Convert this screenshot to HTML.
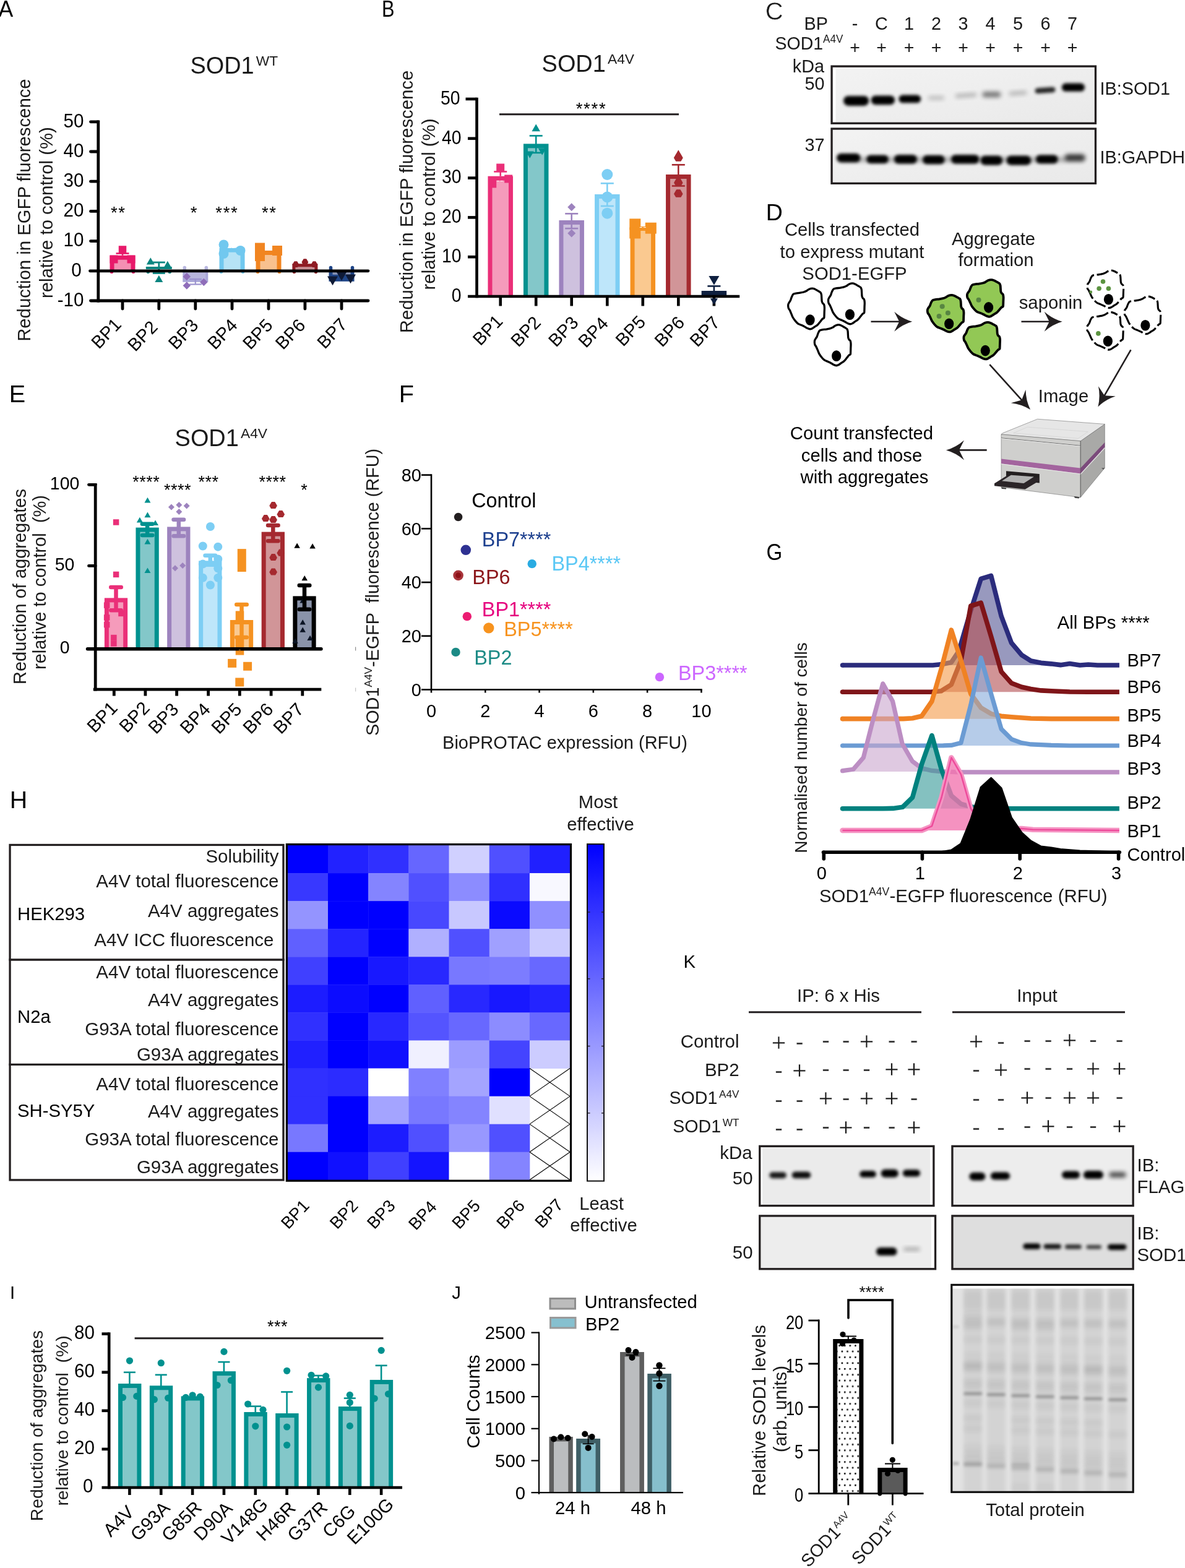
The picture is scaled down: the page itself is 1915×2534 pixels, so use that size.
<!DOCTYPE html>
<html lang="en">
<head>
<meta charset="utf-8">
<title>Figure</title>
<style>
html,body{margin:0;padding:0;background:#fff;}
body{width:1915px;height:2534px;overflow:hidden;}
svg{display:block;}
svg text{font-family:"Liberation Sans",Arial,Helvetica,sans-serif;white-space:pre;}
</style>
</head>
<body>
<svg width="1915" height="2534" viewBox="0 0 1915 2534">
<defs>
<filter id="b1" x="-30%" y="-80%" width="160%" height="260%"><feGaussianBlur stdDeviation="1.6"/></filter>
<filter id="b2" x="-30%" y="-80%" width="160%" height="260%"><feGaussianBlur stdDeviation="2.4"/></filter>
<filter id="b3" x="-30%" y="-80%" width="160%" height="260%"><feGaussianBlur stdDeviation="3.5"/></filter>
<linearGradient id="gbg1" x1="0" y1="0" x2="1" y2="1"><stop offset="0" stop-color="#F3F3F3"/><stop offset="1" stop-color="#E9E9E9"/></linearGradient>
<pattern id="plate" width="1.6" height="1.6" patternUnits="userSpaceOnUse" patternTransform="rotate(20)"><rect width="1.6" height="1.6" fill="none"/><circle cx="0.8" cy="0.8" r="0.45" fill="#8a8a8a"/></pattern>
<linearGradient id="cbar" x1="0" y1="0" x2="0" y2="1"><stop offset="0" stop-color="#0000FF"/><stop offset="1" stop-color="#FFFFFF"/></linearGradient>
<pattern id="dots" x="1355.3" y="2173.3" width="8.6" height="18.8" patternUnits="userSpaceOnUse"><rect width="8.6" height="18.8" fill="#fff"/><rect x="0" y="0" width="2.6" height="2.6" rx="0.6" fill="#111"/><rect x="4.3" y="9.4" width="2.6" height="2.6" rx="0.6" fill="#111"/></pattern>
<filter id="b5" x="-20%" y="-200%" width="140%" height="500%"><feGaussianBlur stdDeviation="2 2.2"/></filter>
<filter id="b6" x="-20%" y="-200%" width="140%" height="500%"><feGaussianBlur stdDeviation="2.5 3"/></filter>
<filter id="b8" x="-30%" y="-300%" width="160%" height="700%"><feGaussianBlur stdDeviation="3 5"/></filter>
<filter id="b7" x="-5%" y="-5%" width="110%" height="110%"><feGaussianBlur stdDeviation="3 1"/></filter>
</defs>
<!-- Panel A -->
<text x="378.3" y="118.9" font-size="37.9" text-anchor="middle" fill="#1a1a1a">SOD1<tspan font-size="60%" dy="-0.57em" dx="0.14em">WT</tspan></text>
<text transform="translate(48.8 339.6) rotate(-90)" font-size="29.3" text-anchor="middle" fill="#1a1a1a">Reduction in EGFP fluorescence</text>
<text transform="translate(85.4 343.7) rotate(-90)" font-size="29.3" text-anchor="middle" fill="#1a1a1a">relative to control (%)</text>
<rect x="177.5" y="412.74" width="41" height="25.06" fill="#E8196A"/>
<rect x="184.5" y="419.74" width="27" height="18.06" fill="#F48FB3"/>
<rect x="191.75" y="397.25" width="12.5" height="12.5" fill="#E8196A"/>
<line x1="198" y1="409.54" x2="198" y2="412.74" stroke="#E8196A" stroke-width="2.6"/>
<line x1="187.5" y1="409.54" x2="208.5" y2="409.54" stroke="#E8196A" stroke-width="2.6"/>
<rect x="177.5" y="412.5" width="13" height="13" fill="#E8196A"/>
<rect x="205.5" y="412.5" width="13" height="13" fill="#E8196A"/>
<line x1="235.8" y1="433" x2="277.8" y2="433" stroke="#0A8580" stroke-width="4"/>
<line x1="256.8" y1="424" x2="256.8" y2="441.5" stroke="#0A8580" stroke-width="2.8"/>
<line x1="246.8" y1="424" x2="266.8" y2="424" stroke="#0A8580" stroke-width="2.8"/>
<line x1="246.8" y1="441.5" x2="266.8" y2="441.5" stroke="#0A8580" stroke-width="2.8"/>
<path d="M243.3 416.25 L249.8 427.5 L236.8 427.5Z" fill="#0A8580"/>
<path d="M270.8 421.75 L277.3 433 L264.3 433Z" fill="#0A8580"/>
<path d="M256.8 444.75 L263.3 456 L250.3 456Z" fill="#0A8580"/>
<line x1="298.3" y1="432.5" x2="298.3" y2="437.8" stroke="#B9B8E0" stroke-width="5.5" stroke-linecap="round"/>
<line x1="333.3" y1="432.5" x2="333.3" y2="437.8" stroke="#B9B8E0" stroke-width="5.5" stroke-linecap="round"/>
<circle cx="180.5" cy="439.4" r="2.7" fill="#E8196A"/>
<circle cx="215.5" cy="439.4" r="2.7" fill="#E8196A"/>
<circle cx="357.5" cy="439.4" r="2.7" fill="#71C8EF"/>
<circle cx="392.5" cy="439.4" r="2.7" fill="#71C8EF"/>
<circle cx="416.5" cy="439.4" r="2.7" fill="#F18521"/>
<circle cx="451.5" cy="439.4" r="2.7" fill="#F18521"/>
<circle cx="475.4" cy="439.4" r="2.7" fill="#8F1C24"/>
<circle cx="510.4" cy="439.4" r="2.7" fill="#8F1C24"/>
<circle cx="239.3" cy="439.4" r="2.7" fill="#0A8580"/>
<circle cx="274.3" cy="439.4" r="2.7" fill="#0A8580"/>
<rect x="295.3" y="437.8" width="41" height="18" fill="#A9A6D8"/>
<rect x="299.3" y="437.8" width="33" height="14" fill="#B7B5DC"/>
<line x1="305.8" y1="451" x2="325.8" y2="451" stroke="#9C93CF" stroke-width="2.2"/>
<line x1="315.8" y1="451" x2="315.8" y2="459.5" stroke="#9C93CF" stroke-width="2.2"/>
<line x1="305.8" y1="459.5" x2="325.8" y2="459.5" stroke="#9C93CF" stroke-width="2.2"/>
<path d="M301.8 440.75 L308.05 447 L301.8 453.25 L295.55 447Z" fill="#8F6DB9"/>
<path d="M329.3 449.75 L335.55 456 L329.3 462.25 L323.05 456Z" fill="#8F6DB9"/>
<path d="M301.8 455.25 L308.05 461.5 L301.8 467.75 L295.55 461.5Z" fill="#8F6DB9"/>
<rect x="354.5" y="400.69" width="41" height="37.11" fill="#71C8EF"/>
<rect x="361.5" y="407.69" width="27" height="30.11" fill="#B6E3F6"/>
<circle cx="361.5" cy="395.5" r="8" fill="#71C8EF"/>
<circle cx="388.5" cy="405" r="8" fill="#71C8EF"/>
<circle cx="361.5" cy="410" r="8" fill="#71C8EF"/>
<line x1="369" y1="400.5" x2="381" y2="400.5" stroke="#fff" stroke-width="1" stroke-dasharray="4 2"/>
<rect x="413.5" y="405.02" width="41" height="32.78" fill="#F18521"/>
<rect x="420.5" y="412.02" width="27" height="25.78" fill="#F8C18F"/>
<rect x="412" y="392.5" width="16" height="16" fill="#F18521"/>
<rect x="440" y="397" width="16" height="16" fill="#F18521"/>
<rect x="412" y="406" width="16" height="16" fill="#F18521"/>
<line x1="428" y1="404.5" x2="440" y2="404.5" stroke="#fff" stroke-width="1" stroke-dasharray="4 2"/>
<rect x="472.4" y="426.23" width="41" height="11.57" fill="#8F1C24"/>
<rect x="477.4" y="431.23" width="31" height="6.57" fill="#C98F94"/>
<path d="M475.84 422.96 L479.96 422.96 L482.7 427.72 L480.64 431.28 L475.16 431.28 L473.1 427.72Z" fill="#8F1C24" stroke="#8F1C24" stroke-width="1.2" stroke-linejoin="round"/>
<path d="M490.84 418.96 L494.96 418.96 L497.7 423.72 L495.64 427.28 L490.16 427.28 L488.1 423.72Z" fill="#8F1C24" stroke="#8F1C24" stroke-width="1.2" stroke-linejoin="round"/>
<path d="M505.84 422.96 L509.96 422.96 L512.7 427.72 L510.64 431.28 L505.16 431.28 L503.1 427.72Z" fill="#8F1C24" stroke="#8F1C24" stroke-width="1.2" stroke-linejoin="round"/>
<rect x="531.5" y="437.8" width="41" height="17" fill="#1F4587"/>
<rect x="537.5" y="437.8" width="29" height="6" fill="#8A95B5"/>
<line x1="534.5" y1="432.5" x2="534.5" y2="437.8" stroke="#1F4587" stroke-width="5.5" stroke-linecap="round"/>
<line x1="569.5" y1="432.5" x2="569.5" y2="437.8" stroke="#1F4587" stroke-width="5.5" stroke-linecap="round"/>
<path d="M537.5 461.33 L546 446.61 L529 446.61Z" fill="#0E1A36"/>
<path d="M552 453.83 L560.5 439.11 L543.5 439.11Z" fill="#0E1A36"/>
<path d="M566.5 458.33 L575 443.61 L558 443.61Z" fill="#0E1A36"/>
<line x1="158.8" y1="194.4" x2="158.8" y2="488.4" stroke="#000" stroke-width="4.8"/>
<line x1="158.8" y1="486" x2="595" y2="486" stroke="#000" stroke-width="4.8" stroke-linecap="round"/>
<line x1="145.5" y1="437.8" x2="595" y2="437.8" stroke="#000" stroke-width="4.8" stroke-linecap="round"/>
<line x1="146.5" y1="196.8" x2="158.8" y2="196.8" stroke="#000" stroke-width="4.8" stroke-linecap="round"/>
<line x1="146.5" y1="245" x2="158.8" y2="245" stroke="#000" stroke-width="4.8" stroke-linecap="round"/>
<line x1="146.5" y1="293.2" x2="158.8" y2="293.2" stroke="#000" stroke-width="4.8" stroke-linecap="round"/>
<line x1="146.5" y1="341.4" x2="158.8" y2="341.4" stroke="#000" stroke-width="4.8" stroke-linecap="round"/>
<line x1="146.5" y1="389.6" x2="158.8" y2="389.6" stroke="#000" stroke-width="4.8" stroke-linecap="round"/>
<line x1="146.5" y1="486" x2="158.8" y2="486" stroke="#000" stroke-width="4.8" stroke-linecap="round"/>
<line x1="198" y1="486" x2="198" y2="499" stroke="#000" stroke-width="4.8" stroke-linecap="round"/>
<line x1="256.8" y1="486" x2="256.8" y2="499" stroke="#000" stroke-width="4.8" stroke-linecap="round"/>
<line x1="315.8" y1="486" x2="315.8" y2="499" stroke="#000" stroke-width="4.8" stroke-linecap="round"/>
<line x1="375" y1="486" x2="375" y2="499" stroke="#000" stroke-width="4.8" stroke-linecap="round"/>
<line x1="434" y1="486" x2="434" y2="499" stroke="#000" stroke-width="4.8" stroke-linecap="round"/>
<line x1="492.9" y1="486" x2="492.9" y2="499" stroke="#000" stroke-width="4.8" stroke-linecap="round"/>
<line x1="552" y1="486" x2="552" y2="499" stroke="#000" stroke-width="4.8" stroke-linecap="round"/>
<text transform="translate(135.5 205.5) scale(0.94 1)" font-size="31.5" text-anchor="end">50</text>
<text transform="translate(135.5 253.7) scale(0.94 1)" font-size="31.5" text-anchor="end">40</text>
<text transform="translate(135.5 301.9) scale(0.94 1)" font-size="31.5" text-anchor="end">30</text>
<text transform="translate(135.5 350.1) scale(0.94 1)" font-size="31.5" text-anchor="end">20</text>
<text transform="translate(135.5 398.3) scale(0.94 1)" font-size="31.5" text-anchor="end">10</text>
<text transform="translate(123.6 446.5) scale(0.94 1)" font-size="31.5" text-anchor="middle">0</text>
<text transform="translate(135.5 494.7) scale(0.94 1)" font-size="31.5" text-anchor="end">-10</text>
<text transform="translate(178.74 545.49) rotate(-46)" font-size="28.9" text-anchor="middle">BP1</text>
<text transform="translate(237.34 549.89) rotate(-46)" font-size="28.9" text-anchor="middle">BP2</text>
<text transform="translate(303.24 546.89) rotate(-46)" font-size="28.9" text-anchor="middle">BP3</text>
<text transform="translate(366.34 546.89) rotate(-46)" font-size="28.9" text-anchor="middle">BP4</text>
<text transform="translate(423.44 546.89) rotate(-46)" font-size="28.9" text-anchor="middle">BP5</text>
<text transform="translate(476.24 546.89) rotate(-46)" font-size="28.9" text-anchor="middle">BP6</text>
<text transform="translate(543.64 545.49) rotate(-46)" font-size="28.9" text-anchor="middle">BP7</text>
<text x="191.3" y="353" font-size="27.5" text-anchor="middle" letter-spacing="1.6">**</text>
<text x="313.8" y="353" font-size="27.5" text-anchor="middle" letter-spacing="1.6">*</text>
<text x="366.8" y="353" font-size="27.5" text-anchor="middle" letter-spacing="1.6">***</text>
<text x="435.3" y="353" font-size="27.5" text-anchor="middle" letter-spacing="1.6">**</text>
<!-- Panel B -->
<text x="950.3" y="115.5" font-size="37.9" text-anchor="middle" fill="#1a1a1a">SOD1<tspan font-size="60%" dy="-0.57em" dx="0.14em">A4V</tspan></text>
<text transform="translate(667 326) rotate(-90)" font-size="29.3" text-anchor="middle" fill="#1a1a1a">Reduction in EGFP fluorescence</text>
<text transform="translate(703 330) rotate(-90)" font-size="29.3" text-anchor="middle" fill="#1a1a1a">relative to control (%)</text>
<rect x="788.45" y="284.7" width="40.5" height="194.3" fill="#EA2F78"/>
<rect x="795.45" y="291.7" width="26.5" height="187.3" fill="#F59BBB"/>
<rect x="845.95" y="232.4" width="40.5" height="246.6" fill="#00918F"/>
<rect x="852.95" y="239.4" width="26.5" height="239.6" fill="#83C7C9"/>
<rect x="903.45" y="356" width="40.5" height="123" fill="#9D83BE"/>
<rect x="910.45" y="363" width="26.5" height="116" fill="#CEC1DE"/>
<rect x="961.05" y="314" width="40.5" height="165" fill="#7DCEF4"/>
<rect x="968.05" y="321" width="26.5" height="158" fill="#BEE6FA"/>
<rect x="1018.55" y="366" width="40.5" height="113" fill="#F59221"/>
<rect x="1025.55" y="373" width="26.5" height="106" fill="#FAC990"/>
<rect x="1076.05" y="282" width="40.5" height="197" fill="#A5292F"/>
<rect x="1083.05" y="289" width="26.5" height="190" fill="#D19598"/>
<rect x="1133.65" y="470" width="40.5" height="9" fill="#0F2040"/>
<rect x="1140.65" y="477" width="26.5" height="2" fill="#0F2040"/>
<rect x="802.2" y="264.5" width="13" height="13" fill="#EA2F78"/>
<line x1="808.7" y1="277.4" x2="808.7" y2="284.7" stroke="#EA2F78" stroke-width="2.6"/>
<line x1="798.2" y1="277.4" x2="819.2" y2="277.4" stroke="#EA2F78" stroke-width="2.6"/>
<rect x="789.2" y="290.5" width="13" height="13" fill="#EA2F78"/>
<rect x="815.2" y="282.5" width="13" height="13" fill="#EA2F78"/>
<line x1="802.7" y1="292.5" x2="814.7" y2="292.5" stroke="#fff" stroke-width="1" stroke-dasharray="4 2"/>
<path d="M866.2 200.49 L872.95 212.18 L859.45 212.18Z" fill="#00918F"/>
<line x1="866.2" y1="219.4" x2="866.2" y2="246.9" stroke="#00918F" stroke-width="2.6"/>
<line x1="855.7" y1="219.4" x2="876.7" y2="219.4" stroke="#00918F" stroke-width="2.6"/>
<line x1="855.7" y1="246.9" x2="876.7" y2="246.9" stroke="#00918F" stroke-width="2.6"/>
<path d="M856.2 255.75 L862.7 244.5 L849.7 244.5Z" fill="#00918F"/>
<path d="M876.2 250.75 L882.7 239.5 L869.7 239.5Z" fill="#00918F"/>
<path d="M923.7 328.2 L930.2 334.7 L923.7 341.2 L917.2 334.7Z" fill="#9D83BE"/>
<line x1="923.7" y1="345.3" x2="923.7" y2="369.2" stroke="#9D83BE" stroke-width="2.6"/>
<line x1="913.2" y1="345.3" x2="934.2" y2="345.3" stroke="#9D83BE" stroke-width="2.6"/>
<line x1="913.2" y1="369.2" x2="934.2" y2="369.2" stroke="#9D83BE" stroke-width="2.6"/>
<path d="M923.7 370.5 L930.2 377 L923.7 383.5 L917.2 377Z" fill="#9D83BE"/>
<circle cx="981.3" cy="282" r="9" fill="#7DCEF4"/>
<line x1="981.3" y1="296.3" x2="981.3" y2="333" stroke="#7DCEF4" stroke-width="2.6"/>
<line x1="970.8" y1="296.3" x2="991.8" y2="296.3" stroke="#7DCEF4" stroke-width="2.6"/>
<line x1="970.8" y1="333" x2="991.8" y2="333" stroke="#7DCEF4" stroke-width="2.6"/>
<circle cx="981.3" cy="318.5" r="9" fill="#7DCEF4"/>
<circle cx="981.3" cy="344.7" r="9" fill="#7DCEF4"/>
<rect x="1017.3" y="353.4" width="18" height="18" fill="#F59221"/>
<rect x="1042.8" y="359.7" width="18" height="18" fill="#F59221"/>
<rect x="1017.3" y="367.5" width="18" height="18" fill="#F59221"/>
<line x1="1033.8" y1="367.5" x2="1043.8" y2="367.5" stroke="#fff" stroke-width="1" stroke-dasharray="4 2"/>
<path d="M1093.49 248.86 L1099.11 248.86 L1102.85 255.34 L1100.04 260.2 L1092.56 260.2 L1089.75 255.34Z" fill="#A5292F" stroke="#A5292F" stroke-width="1.2" stroke-linejoin="round"/>
<path d="M1096.3 242.21 L1103.8 255.2 L1088.8 255.2Z" fill="#A5292F"/>
<line x1="1096.3" y1="266.3" x2="1096.3" y2="300.5" stroke="#A5292F" stroke-width="2.6"/>
<line x1="1085.8" y1="266.3" x2="1106.8" y2="266.3" stroke="#A5292F" stroke-width="2.6"/>
<line x1="1085.8" y1="300.5" x2="1106.8" y2="300.5" stroke="#A5292F" stroke-width="2.6"/>
<path d="M1093.49 288.86 L1099.11 288.86 L1102.85 295.34 L1100.04 300.2 L1092.56 300.2 L1089.75 295.34Z" fill="#A5292F" stroke="#A5292F" stroke-width="1.2" stroke-linejoin="round"/>
<path d="M1093.49 306.86 L1099.11 306.86 L1102.85 313.34 L1100.04 318.2 L1092.56 318.2 L1089.75 313.34Z" fill="#A5292F" stroke="#A5292F" stroke-width="1.2" stroke-linejoin="round"/>
<path d="M1153.9 460.83 L1162.4 446.11 L1145.4 446.11Z" fill="#0F2040"/>
<line x1="1153.9" y1="462.4" x2="1153.9" y2="470" stroke="#0F2040" stroke-width="2.6"/>
<line x1="1143.4" y1="462.4" x2="1164.4" y2="462.4" stroke="#0F2040" stroke-width="2.6"/>
<line x1="770.5" y1="157.7" x2="770.5" y2="481.3" stroke="#000" stroke-width="4.6"/>
<line x1="756" y1="479" x2="1195.2" y2="479" stroke="#000" stroke-width="4.6"/>
<line x1="752.5" y1="160" x2="770.5" y2="160" stroke="#000" stroke-width="4.6"/>
<line x1="756" y1="223.8" x2="770.5" y2="223.8" stroke="#000" stroke-width="4.6"/>
<line x1="756" y1="287.6" x2="770.5" y2="287.6" stroke="#000" stroke-width="4.6"/>
<line x1="756" y1="351.4" x2="770.5" y2="351.4" stroke="#000" stroke-width="4.6"/>
<line x1="756" y1="415.2" x2="770.5" y2="415.2" stroke="#000" stroke-width="4.6"/>
<line x1="808.7" y1="479" x2="808.7" y2="494.5" stroke="#000" stroke-width="4.6"/>
<line x1="866.2" y1="479" x2="866.2" y2="494.5" stroke="#000" stroke-width="4.6"/>
<line x1="923.7" y1="479" x2="923.7" y2="494.5" stroke="#000" stroke-width="4.6"/>
<line x1="981.3" y1="479" x2="981.3" y2="494.5" stroke="#000" stroke-width="4.6"/>
<line x1="1038.8" y1="479" x2="1038.8" y2="494.5" stroke="#000" stroke-width="4.6"/>
<line x1="1096.3" y1="479" x2="1096.3" y2="494.5" stroke="#000" stroke-width="4.6"/>
<line x1="1153.9" y1="479" x2="1153.9" y2="494.5" stroke="#000" stroke-width="4.6"/>
<path d="M1153.9 492.74 L1159.9 482.34 L1147.9 482.34Z" fill="#0F2040"/>
<text transform="translate(743.6 168.7) scale(0.9 1)" font-size="31.5" text-anchor="end">50</text>
<text transform="translate(745.6 232.5) scale(0.9 1)" font-size="31.5" text-anchor="end">40</text>
<text transform="translate(745.6 296.3) scale(0.9 1)" font-size="31.5" text-anchor="end">30</text>
<text transform="translate(745.6 360.1) scale(0.9 1)" font-size="31.5" text-anchor="end">20</text>
<text transform="translate(745.6 423.9) scale(0.9 1)" font-size="31.5" text-anchor="end">10</text>
<text transform="translate(745.6 487.7) scale(0.9 1)" font-size="31.5" text-anchor="end">0</text>
<text transform="translate(795.24 540.39) rotate(-46)" font-size="28.9" text-anchor="middle">BP1</text>
<text transform="translate(856.74 542.49) rotate(-46)" font-size="28.9" text-anchor="middle">BP2</text>
<text transform="translate(917.44 542.49) rotate(-46)" font-size="28.9" text-anchor="middle">BP3</text>
<text transform="translate(965.74 543.89) rotate(-46)" font-size="28.9" text-anchor="middle">BP4</text>
<text transform="translate(1025.84 541.59) rotate(-46)" font-size="28.9" text-anchor="middle">BP5</text>
<text transform="translate(1088.84 542.49) rotate(-46)" font-size="28.9" text-anchor="middle">BP6</text>
<text transform="translate(1146.04 542.49) rotate(-46)" font-size="28.9" text-anchor="middle">BP7</text>
<line x1="807" y1="184.8" x2="1097" y2="184.8" stroke="#231F20" stroke-width="3.1"/>
<text x="955.5" y="184.6" font-size="27.5" text-anchor="middle" letter-spacing="1.7">****</text>
<!-- Panel C -->
<text transform="translate(1299.5 47.6) scale(0.95 1)" font-size="30.3" fill="#1a1a1a">BP</text>
<text transform="translate(1381.5 47.6) scale(0.95 1)" font-size="30.3" text-anchor="middle" fill="#1a1a1a">-</text>
<text transform="translate(1424.5 47.6) scale(0.95 1)" font-size="30.3" text-anchor="middle" fill="#1a1a1a">C</text>
<text transform="translate(1469 47.6) scale(0.95 1)" font-size="30.3" text-anchor="middle" fill="#1a1a1a">1</text>
<text transform="translate(1513 47.6) scale(0.95 1)" font-size="30.3" text-anchor="middle" fill="#1a1a1a">2</text>
<text transform="translate(1556.5 47.6) scale(0.95 1)" font-size="30.3" text-anchor="middle" fill="#1a1a1a">3</text>
<text transform="translate(1600.5 47.6) scale(0.95 1)" font-size="30.3" text-anchor="middle" fill="#1a1a1a">4</text>
<text transform="translate(1645 47.6) scale(0.95 1)" font-size="30.3" text-anchor="middle" fill="#1a1a1a">5</text>
<text transform="translate(1689.5 47.6) scale(0.95 1)" font-size="30.3" text-anchor="middle" fill="#1a1a1a">6</text>
<text transform="translate(1733 47.6) scale(0.95 1)" font-size="30.3" text-anchor="middle" fill="#1a1a1a">7</text>
<text transform="translate(1252.5 80) scale(0.94 1)" font-size="30.3" fill="#1a1a1a">SOD1<tspan font-size="60%" dy="-0.6em">A4V</tspan></text>
<text x="1381.5" y="86" font-size="28.5" text-anchor="middle" fill="#1a1a1a">+</text>
<text x="1424.5" y="86" font-size="28.5" text-anchor="middle" fill="#1a1a1a">+</text>
<text x="1469" y="86" font-size="28.5" text-anchor="middle" fill="#1a1a1a">+</text>
<text x="1513" y="86" font-size="28.5" text-anchor="middle" fill="#1a1a1a">+</text>
<text x="1556.5" y="86" font-size="28.5" text-anchor="middle" fill="#1a1a1a">+</text>
<text x="1600.5" y="86" font-size="28.5" text-anchor="middle" fill="#1a1a1a">+</text>
<text x="1645" y="86" font-size="28.5" text-anchor="middle" fill="#1a1a1a">+</text>
<text x="1689.5" y="86" font-size="28.5" text-anchor="middle" fill="#1a1a1a">+</text>
<text x="1733" y="86" font-size="28.5" text-anchor="middle" fill="#1a1a1a">+</text>
<text transform="translate(1332 117.3) scale(0.95 1)" font-size="30.3" text-anchor="end" fill="#1a1a1a">kDa</text>
<text transform="translate(1332.5 145) scale(0.95 1)" font-size="30.3" text-anchor="end" fill="#1a1a1a">50</text>
<text transform="translate(1332.5 243.5) scale(0.95 1)" font-size="30.3" text-anchor="end" fill="#1a1a1a">37</text>
<text transform="translate(1777.5 153) scale(0.95 1)" font-size="30.3" fill="#1a1a1a">IB:SOD1</text>
<text transform="translate(1777.5 264) scale(0.95 1)" font-size="30.3" fill="#1a1a1a">IB:GAPDH</text>
<clipPath id="cpC1"><rect x="1342.4" y="105.5" width="429.7" height="95.4"/></clipPath>
<rect x="1342.4" y="105.5" width="429.7" height="95.4" fill="url(#gbg1)"/>
<g clip-path="url(#cpC1)">
<rect x="1345" y="107" width="5.5" height="93" fill="#fff"/>
<rect x="1363.01" y="154.97" width="41.27" height="15.96" rx="7.98" ry="7.98" fill="#000" filter="url(#b2)"/>
<rect x="1407.58" y="154.42" width="38.51" height="14.86" rx="7.43" ry="7.43" fill="#000" filter="url(#b2)"/>
<rect x="1452.42" y="153.6" width="35.76" height="12.65" rx="6.33" ry="6.33" fill="#000" filter="url(#b2)"/>
<rect x="1499.88" y="155.25" width="26.13" height="6.05" rx="3.03" ry="3.03" fill="#000" filter="url(#b3)" opacity="0.22"/>
<rect x="1543.89" y="151.12" width="34.39" height="6.05" rx="3.03" ry="3.03" fill="#000" filter="url(#b3)" opacity="0.25" transform="rotate(-4 1561.09 154.15)"/>
<rect x="1587.22" y="148.37" width="30.26" height="8.8" rx="4.4" ry="4.4" fill="#000" filter="url(#b3)" opacity="0.5"/>
<rect x="1630.55" y="147.54" width="28.89" height="6.05" rx="3.03" ry="3.03" fill="#000" filter="url(#b3)" opacity="0.25" transform="rotate(-4 1644.99 150.57)"/>
<rect x="1672.5" y="141.49" width="33.01" height="8.8" rx="4.4" ry="4.4" fill="#000" filter="url(#b2)" opacity="0.85" transform="rotate(-4 1689.01 145.89)"/>
<rect x="1715.83" y="134.61" width="37.14" height="13.2" rx="6.6" ry="6.6" fill="#000" filter="url(#b2)"/>
</g>
<rect x="1344.05" y="107.15" width="426.4" height="92.1" fill="none" stroke="#231F20" stroke-width="3.3"/>
<clipPath id="cpC2"><rect x="1342.4" y="206.4" width="429.7" height="91.6"/></clipPath>
<rect x="1342.4" y="206.4" width="429.7" height="91.6" fill="url(#gbg1)"/>
<g clip-path="url(#cpC2)">
<rect x="1356.13" y="254.28" width="396.15" height="7.15" rx="3.58" ry="3.58" fill="#000" filter="url(#b3)" opacity="0.3"/>
<rect x="1352.01" y="247.96" width="38.51" height="14.31" rx="7.15" ry="7.15" fill="#000" filter="url(#b2)"/>
<rect x="1400.15" y="250.71" width="35.76" height="13.2" rx="6.6" ry="6.6" fill="#000" filter="url(#b2)"/>
<rect x="1444.86" y="250.16" width="37.14" height="14.31" rx="7.15" ry="7.15" fill="#000" filter="url(#b2)"/>
<rect x="1490.94" y="250.98" width="35.76" height="14.31" rx="7.15" ry="7.15" fill="#000" filter="url(#b2)"/>
<rect x="1537.02" y="250.16" width="45.39" height="14.31" rx="7.15" ry="7.15" fill="#000" filter="url(#b2)"/>
<rect x="1584.47" y="251.67" width="35.76" height="15.13" rx="7.57" ry="7.57" fill="#000" filter="url(#b2)"/>
<rect x="1626.42" y="251.67" width="39.89" height="15.13" rx="7.57" ry="7.57" fill="#000" filter="url(#b2)"/>
<rect x="1673.88" y="250.43" width="35.76" height="13.76" rx="6.88" ry="6.88" fill="#000" filter="url(#b2)"/>
<rect x="1720.65" y="249.33" width="33.01" height="10.45" rx="5.23" ry="5.23" fill="#000" filter="url(#b3)" opacity="0.75"/>
</g>
<rect x="1344.05" y="208.05" width="426.4" height="88.3" fill="none" stroke="#231F20" stroke-width="3.3"/>
<!-- Panel D -->
<text x="1377" y="381" font-size="29.3" text-anchor="middle" fill="#1a1a1a">Cells transfected</text>
<text x="1377" y="416.5" font-size="29.3" text-anchor="middle" fill="#1a1a1a">to express mutant</text>
<text x="1381" y="451.5" font-size="29.3" text-anchor="middle" fill="#1a1a1a">SOD1-EGFP</text>
<text x="1605.5" y="396" font-size="29.3" text-anchor="middle" fill="#1a1a1a">Aggregate</text>
<text x="1609.5" y="430" font-size="29.3" text-anchor="middle" fill="#1a1a1a">formation</text>
<text x="1698" y="498.5" font-size="29.3" text-anchor="middle" fill="#1a1a1a">saponin</text>
<text x="1718.5" y="649.5" font-size="29.3" text-anchor="middle" fill="#1a1a1a">Image</text>
<text x="1392.5" y="710" font-size="29.3" text-anchor="middle">Count transfected</text>
<text x="1392.5" y="746" font-size="29.3" text-anchor="middle">cells and those</text>
<text x="1397" y="781" font-size="29.3" text-anchor="middle">with aggregates</text>
<path d="M1312.7 466.1 C1314.37 466.1 1315.7 466.7 1317.3 467.4 C1318.9 468.1 1320.83 469.4 1322.3 470.3 C1323.77 471.2 1325.25 471.82 1326.1 472.8 C1326.95 473.78 1327.12 474.67 1327.4 476.2 C1327.68 477.73 1327.67 480.2 1327.8 482 C1327.93 483.8 1327.92 485.67 1328.2 487 C1328.48 488.33 1328.93 489.15 1329.5 490 C1330.07 490.85 1331.12 490.92 1331.6 492.1 C1332.08 493.28 1332.3 495.15 1332.4 497.1 C1332.5 499.05 1332.27 501.57 1332.2 503.8 C1332.13 506.03 1332.1 508.83 1332 510.5 C1331.9 512.17 1332.1 512.97 1331.6 513.8 C1331.1 514.63 1329.98 514.52 1329 515.5 C1328.02 516.48 1326.95 518.17 1325.7 519.7 C1324.45 521.23 1323.03 523.3 1321.5 524.7 C1319.97 526.1 1318.03 527.05 1316.5 528.1 C1314.97 529.15 1313.57 530.37 1312.3 531 C1311.03 531.63 1310.15 531.97 1308.9 531.9 C1307.65 531.83 1306.18 531.23 1304.8 530.6 C1303.42 529.97 1302.15 528.93 1300.6 528.1 C1299.05 527.27 1297.32 526.43 1295.5 525.6 C1293.68 524.77 1291.37 524.22 1289.7 523.1 C1288.03 521.98 1286.9 520.58 1285.5 518.9 C1284.1 517.22 1282.42 514.97 1281.3 513 C1280.18 511.03 1279.63 509.05 1278.8 507.1 C1277.97 505.15 1277.07 502.83 1276.3 501.3 C1275.53 499.77 1274.62 499.43 1274.2 497.9 C1273.78 496.37 1273.6 493.63 1273.8 492.1 C1274 490.57 1274.78 489.82 1275.4 488.7 C1276.02 487.58 1276.8 486.93 1277.5 485.4 C1278.2 483.87 1278.83 481.18 1279.6 479.5 C1280.37 477.82 1280.98 476.2 1282.1 475.3 C1283.22 474.4 1284.48 474.45 1286.3 474.1 C1288.12 473.75 1290.9 473.55 1293 473.2 C1295.1 472.85 1297.22 472.48 1298.9 472 C1300.58 471.52 1301.7 471.07 1303.1 470.3 C1304.5 469.53 1305.7 468.1 1307.3 467.4 C1308.9 466.7 1311.03 466.1 1312.7 466.1Z" fill="#fff" stroke="#000" stroke-width="3.3" stroke-linejoin="round"/>
<ellipse cx="1309.09" cy="517.03" rx="7.6" ry="8.8" fill="#000"/>
<path d="M1377.56 457.97 C1379.23 457.97 1380.56 458.57 1382.16 459.27 C1383.76 459.97 1385.69 461.27 1387.16 462.17 C1388.63 463.07 1390.11 463.68 1390.96 464.67 C1391.81 465.65 1391.98 466.53 1392.26 468.07 C1392.54 469.6 1392.53 472.07 1392.66 473.87 C1392.79 475.67 1392.78 477.53 1393.06 478.87 C1393.34 480.2 1393.79 481.02 1394.36 481.87 C1394.93 482.72 1395.98 482.78 1396.46 483.97 C1396.94 485.15 1397.16 487.02 1397.26 488.97 C1397.36 490.92 1397.13 493.43 1397.06 495.67 C1396.99 497.9 1396.96 500.7 1396.86 502.37 C1396.76 504.03 1396.96 504.83 1396.46 505.67 C1395.96 506.5 1394.84 506.38 1393.86 507.37 C1392.88 508.35 1391.81 510.03 1390.56 511.57 C1389.31 513.1 1387.89 515.17 1386.36 516.57 C1384.83 517.97 1382.89 518.92 1381.36 519.97 C1379.83 521.02 1378.43 522.23 1377.16 522.87 C1375.89 523.5 1375.01 523.83 1373.76 523.77 C1372.51 523.7 1371.04 523.1 1369.66 522.47 C1368.28 521.83 1367.01 520.8 1365.46 519.97 C1363.91 519.13 1362.18 518.3 1360.36 517.47 C1358.54 516.63 1356.23 516.08 1354.56 514.97 C1352.89 513.85 1351.76 512.45 1350.36 510.77 C1348.96 509.08 1347.28 506.83 1346.16 504.87 C1345.04 502.9 1344.49 500.92 1343.66 498.97 C1342.83 497.02 1341.93 494.7 1341.16 493.17 C1340.39 491.63 1339.48 491.3 1339.06 489.77 C1338.64 488.23 1338.46 485.5 1338.66 483.97 C1338.86 482.43 1339.64 481.68 1340.26 480.57 C1340.88 479.45 1341.66 478.8 1342.36 477.27 C1343.06 475.73 1343.69 473.05 1344.46 471.37 C1345.23 469.68 1345.84 468.07 1346.96 467.17 C1348.08 466.27 1349.34 466.32 1351.16 465.97 C1352.98 465.62 1355.76 465.42 1357.86 465.07 C1359.96 464.72 1362.08 464.35 1363.76 463.87 C1365.44 463.38 1366.56 462.93 1367.96 462.17 C1369.36 461.4 1370.56 459.97 1372.16 459.27 C1373.76 458.57 1375.89 457.97 1377.56 457.97Z" fill="#fff" stroke="#000" stroke-width="3.3" stroke-linejoin="round"/>
<ellipse cx="1373.44" cy="508.18" rx="7.6" ry="8.8" fill="#000"/>
<path d="M1355.31 524.95 C1356.98 524.95 1358.31 525.55 1359.91 526.25 C1361.51 526.95 1363.44 528.25 1364.91 529.15 C1366.38 530.05 1367.86 530.67 1368.71 531.65 C1369.56 532.64 1369.73 533.52 1370.01 535.05 C1370.29 536.59 1370.28 539.05 1370.41 540.85 C1370.54 542.65 1370.53 544.52 1370.81 545.85 C1371.09 547.19 1371.54 548 1372.11 548.85 C1372.68 549.7 1373.73 549.77 1374.21 550.95 C1374.69 552.14 1374.91 554 1375.01 555.95 C1375.11 557.9 1374.88 560.42 1374.81 562.65 C1374.74 564.89 1374.71 567.69 1374.61 569.35 C1374.51 571.02 1374.71 571.82 1374.21 572.65 C1373.71 573.49 1372.59 573.37 1371.61 574.35 C1370.63 575.34 1369.56 577.02 1368.31 578.55 C1367.06 580.09 1365.64 582.15 1364.11 583.55 C1362.58 584.95 1360.64 585.9 1359.11 586.95 C1357.58 588 1356.18 589.22 1354.91 589.85 C1353.64 590.49 1352.76 590.82 1351.51 590.75 C1350.26 590.69 1348.79 590.09 1347.41 589.45 C1346.03 588.82 1344.76 587.79 1343.21 586.95 C1341.66 586.12 1339.93 585.29 1338.11 584.45 C1336.29 583.62 1333.98 583.07 1332.31 581.95 C1330.64 580.84 1329.51 579.44 1328.11 577.75 C1326.71 576.07 1325.03 573.82 1323.91 571.85 C1322.79 569.89 1322.24 567.9 1321.41 565.95 C1320.58 564 1319.68 561.69 1318.91 560.15 C1318.14 558.62 1317.23 558.29 1316.81 556.75 C1316.39 555.22 1316.21 552.49 1316.41 550.95 C1316.61 549.42 1317.39 548.67 1318.01 547.55 C1318.63 546.44 1319.41 545.79 1320.11 544.25 C1320.81 542.72 1321.44 540.04 1322.21 538.35 C1322.98 536.67 1323.59 535.05 1324.71 534.15 C1325.83 533.25 1327.09 533.3 1328.91 532.95 C1330.73 532.6 1333.51 532.4 1335.61 532.05 C1337.71 531.7 1339.83 531.34 1341.51 530.85 C1343.19 530.37 1344.31 529.92 1345.71 529.15 C1347.11 528.39 1348.31 526.95 1349.91 526.25 C1351.51 525.55 1353.64 524.95 1355.31 524.95Z" fill="#fff" stroke="#000" stroke-width="3.3" stroke-linejoin="round"/>
<ellipse cx="1351.67" cy="575.17" rx="7.6" ry="8.8" fill="#000"/>
<path d="M1537.8 476.86 C1539.47 476.86 1540.8 477.4 1542.4 478.04 C1544 478.67 1545.93 479.85 1547.4 480.66 C1548.87 481.48 1550.35 482.04 1551.2 482.93 C1552.05 483.82 1552.22 484.62 1552.5 486.01 C1552.78 487.4 1552.77 489.63 1552.9 491.26 C1553.03 492.9 1553.02 494.59 1553.3 495.79 C1553.58 497 1554.03 497.74 1554.6 498.51 C1555.17 499.28 1556.22 499.34 1556.7 500.42 C1557.18 501.49 1557.4 503.18 1557.5 504.94 C1557.6 506.71 1557.37 508.99 1557.3 511.02 C1557.23 513.04 1557.2 515.58 1557.1 517.09 C1557 518.6 1557.2 519.32 1556.7 520.08 C1556.2 520.83 1555.08 520.72 1554.1 521.62 C1553.12 522.51 1552.05 524.03 1550.8 525.42 C1549.55 526.81 1548.13 528.68 1546.6 529.95 C1545.07 531.22 1543.13 532.08 1541.6 533.03 C1540.07 533.98 1538.67 535.08 1537.4 535.66 C1536.13 536.23 1535.25 536.53 1534 536.47 C1532.75 536.41 1531.28 535.87 1529.9 535.3 C1528.52 534.72 1527.25 533.79 1525.7 533.03 C1524.15 532.28 1522.42 531.52 1520.6 530.77 C1518.78 530.01 1516.47 529.51 1514.8 528.5 C1513.13 527.49 1512 526.22 1510.6 524.7 C1509.2 523.17 1507.52 521.13 1506.4 519.35 C1505.28 517.57 1504.73 515.77 1503.9 514 C1503.07 512.24 1502.17 510.14 1501.4 508.75 C1500.63 507.36 1499.72 507.06 1499.3 505.67 C1498.88 504.28 1498.7 501.8 1498.9 500.42 C1499.1 499.03 1499.88 498.35 1500.5 497.33 C1501.12 496.32 1501.9 495.73 1502.6 494.34 C1503.3 492.96 1503.93 490.52 1504.7 489 C1505.47 487.47 1506.08 486.01 1507.2 485.19 C1508.32 484.38 1509.58 484.42 1511.4 484.11 C1513.22 483.79 1516 483.61 1518.1 483.29 C1520.2 482.97 1522.32 482.64 1524 482.2 C1525.68 481.77 1526.8 481.36 1528.2 480.66 C1529.6 479.97 1530.8 478.67 1532.4 478.04 C1534 477.4 1536.13 476.86 1537.8 476.86Z" fill="#92C855" stroke="#000" stroke-width="3.8" stroke-linejoin="round"/>
<circle cx="1522.7" cy="495.2" r="4" fill="#588542"/>
<circle cx="1531.9" cy="505.7" r="4" fill="#588542"/>
<circle cx="1517.6" cy="511" r="4" fill="#588542"/>
<ellipse cx="1533.7" cy="523.3" rx="7.6" ry="8.8" fill="#000"/>
<path d="M1601.9 452.16 C1603.57 452.16 1604.9 452.7 1606.5 453.34 C1608.1 453.97 1610.03 455.15 1611.5 455.96 C1612.97 456.78 1614.45 457.34 1615.3 458.23 C1616.15 459.12 1616.32 459.92 1616.6 461.31 C1616.88 462.7 1616.87 464.93 1617 466.56 C1617.13 468.2 1617.12 469.89 1617.4 471.09 C1617.68 472.3 1618.13 473.04 1618.7 473.81 C1619.27 474.58 1620.32 474.64 1620.8 475.72 C1621.28 476.79 1621.5 478.48 1621.6 480.25 C1621.7 482.01 1621.47 484.29 1621.4 486.32 C1621.33 488.34 1621.3 490.88 1621.2 492.39 C1621.1 493.9 1621.3 494.62 1620.8 495.38 C1620.3 496.13 1619.18 496.02 1618.2 496.92 C1617.22 497.81 1616.15 499.33 1614.9 500.72 C1613.65 502.11 1612.23 503.98 1610.7 505.25 C1609.17 506.52 1607.23 507.38 1605.7 508.33 C1604.17 509.28 1602.77 510.38 1601.5 510.96 C1600.23 511.53 1599.35 511.83 1598.1 511.77 C1596.85 511.71 1595.38 511.17 1594 510.6 C1592.62 510.02 1591.35 509.09 1589.8 508.33 C1588.25 507.58 1586.52 506.82 1584.7 506.07 C1582.88 505.31 1580.57 504.81 1578.9 503.8 C1577.23 502.79 1576.1 501.52 1574.7 500 C1573.3 498.47 1571.62 496.43 1570.5 494.65 C1569.38 492.87 1568.83 491.07 1568 489.31 C1567.17 487.54 1566.27 485.44 1565.5 484.05 C1564.73 482.66 1563.82 482.36 1563.4 480.97 C1562.98 479.58 1562.8 477.1 1563 475.72 C1563.2 474.33 1563.98 473.65 1564.6 472.63 C1565.22 471.62 1566 471.03 1566.7 469.64 C1567.4 468.26 1568.03 465.82 1568.8 464.3 C1569.57 462.77 1570.18 461.31 1571.3 460.49 C1572.42 459.68 1573.68 459.72 1575.5 459.41 C1577.32 459.09 1580.1 458.91 1582.2 458.59 C1584.3 458.27 1586.42 457.94 1588.1 457.5 C1589.78 457.07 1590.9 456.66 1592.3 455.96 C1593.7 455.27 1594.9 453.97 1596.5 453.34 C1598.1 452.7 1600.23 452.16 1601.9 452.16Z" fill="#92C855" stroke="#000" stroke-width="3.8" stroke-linejoin="round"/>
<circle cx="1581.5" cy="484.8" r="4" fill="#588542"/>
<ellipse cx="1597.6" cy="496.9" rx="7.6" ry="8.8" fill="#000"/>
<path d="M1596.4 520.86 C1598.07 520.86 1599.4 521.4 1601 522.04 C1602.6 522.67 1604.53 523.85 1606 524.66 C1607.47 525.48 1608.95 526.04 1609.8 526.93 C1610.65 527.82 1610.82 528.62 1611.1 530.01 C1611.38 531.4 1611.37 533.63 1611.5 535.26 C1611.63 536.9 1611.62 538.59 1611.9 539.79 C1612.18 541 1612.63 541.74 1613.2 542.51 C1613.77 543.28 1614.82 543.34 1615.3 544.41 C1615.78 545.49 1616 547.18 1616.1 548.95 C1616.2 550.71 1615.97 552.99 1615.9 555.02 C1615.83 557.04 1615.8 559.58 1615.7 561.09 C1615.6 562.6 1615.8 563.32 1615.3 564.08 C1614.8 564.83 1613.68 564.72 1612.7 565.62 C1611.72 566.51 1610.65 568.03 1609.4 569.42 C1608.15 570.81 1606.73 572.68 1605.2 573.95 C1603.67 575.22 1601.73 576.08 1600.2 577.03 C1598.67 577.98 1597.27 579.08 1596 579.66 C1594.73 580.23 1593.85 580.53 1592.6 580.47 C1591.35 580.41 1589.88 579.87 1588.5 579.3 C1587.12 578.72 1585.85 577.79 1584.3 577.03 C1582.75 576.28 1581.02 575.52 1579.2 574.77 C1577.38 574.01 1575.07 573.51 1573.4 572.5 C1571.73 571.49 1570.6 570.22 1569.2 568.7 C1567.8 567.17 1566.12 565.13 1565 563.35 C1563.88 561.57 1563.33 559.77 1562.5 558 C1561.67 556.24 1560.77 554.14 1560 552.75 C1559.23 551.36 1558.32 551.06 1557.9 549.67 C1557.48 548.28 1557.3 545.8 1557.5 544.41 C1557.7 543.03 1558.48 542.35 1559.1 541.33 C1559.72 540.32 1560.5 539.73 1561.2 538.34 C1561.9 536.96 1562.53 534.52 1563.3 533 C1564.07 531.47 1564.68 530.01 1565.8 529.19 C1566.92 528.38 1568.18 528.42 1570 528.11 C1571.82 527.79 1574.6 527.61 1576.7 527.29 C1578.8 526.97 1580.92 526.64 1582.6 526.2 C1584.28 525.77 1585.4 525.36 1586.8 524.66 C1588.2 523.97 1589.4 522.67 1591 522.04 C1592.6 521.4 1594.73 520.86 1596.4 520.86Z" fill="#92C855" stroke="#000" stroke-width="3.8" stroke-linejoin="round"/>
<ellipse cx="1592.3" cy="566.6" rx="7.6" ry="8.8" fill="#000"/>
<path d="M1795.93 437.07 C1797.6 437.07 1798.93 437.62 1800.53 438.26 C1802.13 438.91 1804.06 440.1 1805.53 440.93 C1807 441.76 1808.48 442.33 1809.33 443.23 C1810.18 444.14 1810.35 444.95 1810.63 446.36 C1810.91 447.77 1810.9 450.04 1811.03 451.69 C1811.16 453.35 1811.15 455.07 1811.43 456.29 C1811.71 457.52 1812.16 458.27 1812.73 459.05 C1813.3 459.84 1814.35 459.9 1814.83 460.99 C1815.31 462.08 1815.53 463.79 1815.63 465.59 C1815.73 467.38 1815.5 469.7 1815.43 471.75 C1815.36 473.81 1815.33 476.38 1815.23 477.91 C1815.13 479.45 1815.33 480.18 1814.83 480.95 C1814.33 481.72 1813.21 481.61 1812.23 482.51 C1811.25 483.42 1810.18 484.97 1808.93 486.38 C1807.68 487.79 1806.26 489.69 1804.73 490.98 C1803.2 492.27 1801.26 493.14 1799.73 494.11 C1798.2 495.07 1796.8 496.19 1795.53 496.77 C1794.26 497.36 1793.38 497.66 1792.13 497.6 C1790.88 497.54 1789.41 496.99 1788.03 496.41 C1786.65 495.82 1785.38 494.87 1783.83 494.11 C1782.28 493.34 1780.55 492.57 1778.73 491.81 C1776.91 491.04 1774.6 490.53 1772.93 489.51 C1771.26 488.48 1770.13 487.19 1768.73 485.64 C1767.33 484.09 1765.65 482.02 1764.53 480.21 C1763.41 478.41 1762.86 476.58 1762.03 474.79 C1761.2 472.99 1760.3 470.86 1759.53 469.45 C1758.76 468.04 1757.85 467.73 1757.43 466.32 C1757.01 464.91 1756.83 462.4 1757.03 460.99 C1757.23 459.58 1758.01 458.89 1758.63 457.86 C1759.25 456.83 1760.03 456.23 1760.73 454.82 C1761.43 453.41 1762.06 450.94 1762.83 449.39 C1763.6 447.85 1764.21 446.36 1765.33 445.53 C1766.45 444.7 1767.71 444.75 1769.53 444.43 C1771.35 444.1 1774.13 443.92 1776.23 443.6 C1778.33 443.28 1780.45 442.94 1782.13 442.49 C1783.81 442.05 1784.93 441.64 1786.33 440.93 C1787.73 440.23 1788.93 438.91 1790.53 438.26 C1792.13 437.62 1794.26 437.07 1795.93 437.07Z" fill="#fff" stroke="#000" stroke-width="3.1" stroke-linejoin="round" stroke-dasharray="20 4.5" stroke-dashoffset="9"/>
<circle cx="1782.51" cy="455.03" r="3.8" fill="#5B9340"/>
<circle cx="1776.14" cy="466.28" r="3.8" fill="#5B9340"/>
<circle cx="1791.42" cy="466.28" r="3.8" fill="#5B9340"/>
<circle cx="1762.76" cy="472.02" r="2.4" fill="#5B9340"/>
<ellipse cx="1791.42" cy="483.69" rx="7.6" ry="8.8" fill="#000"/>
<path d="M1856.01 479.1 C1857.68 479.1 1859.01 479.66 1860.61 480.3 C1862.21 480.94 1864.15 482.14 1865.61 482.97 C1867.08 483.8 1868.56 484.36 1869.41 485.27 C1870.26 486.17 1870.43 486.99 1870.71 488.4 C1871 489.81 1870.98 492.08 1871.11 493.73 C1871.25 495.39 1871.23 497.11 1871.51 498.33 C1871.8 499.56 1872.25 500.31 1872.81 501.09 C1873.38 501.87 1874.43 501.94 1874.91 503.02 C1875.4 504.11 1875.61 505.83 1875.71 507.62 C1875.81 509.42 1875.58 511.73 1875.51 513.79 C1875.45 515.84 1875.41 518.42 1875.31 519.95 C1875.21 521.49 1875.41 522.22 1874.91 522.99 C1874.41 523.76 1873.3 523.65 1872.31 524.55 C1871.33 525.46 1870.26 527.01 1869.01 528.42 C1867.76 529.83 1866.35 531.73 1864.81 533.02 C1863.28 534.3 1861.35 535.18 1859.81 536.14 C1858.28 537.11 1856.88 538.23 1855.61 538.81 C1854.35 539.4 1853.46 539.7 1852.21 539.64 C1850.96 539.58 1849.5 539.03 1848.11 538.44 C1846.73 537.86 1845.46 536.91 1843.91 536.14 C1842.36 535.38 1840.63 534.61 1838.81 533.84 C1837 533.08 1834.68 532.57 1833.01 531.54 C1831.35 530.52 1830.21 529.23 1828.81 527.68 C1827.41 526.13 1825.73 524.06 1824.61 522.25 C1823.5 520.44 1822.95 518.62 1822.11 516.82 C1821.28 515.03 1820.38 512.9 1819.61 511.49 C1818.85 510.08 1817.93 509.77 1817.51 508.36 C1817.1 506.95 1816.91 504.44 1817.11 503.02 C1817.31 501.61 1818.1 500.92 1818.71 499.9 C1819.33 498.87 1820.11 498.27 1820.81 496.86 C1821.51 495.45 1822.15 492.98 1822.91 491.43 C1823.68 489.88 1824.3 488.4 1825.41 487.57 C1826.53 486.74 1827.8 486.79 1829.61 486.46 C1831.43 486.14 1834.21 485.96 1836.31 485.64 C1838.41 485.31 1840.53 484.98 1842.21 484.53 C1843.9 484.09 1845.01 483.67 1846.41 482.97 C1847.81 482.26 1849.01 480.94 1850.61 480.3 C1852.21 479.66 1854.35 479.1 1856.01 479.1Z" fill="#fff" stroke="#000" stroke-width="3.1" stroke-linejoin="round" stroke-dasharray="20 4.5" stroke-dashoffset="9"/>
<ellipse cx="1850.87" cy="525.73" rx="7.6" ry="8.8" fill="#000"/>
<path d="M1795.5 504.58 C1797.17 504.58 1798.5 505.13 1800.1 505.78 C1801.7 506.42 1803.64 507.62 1805.1 508.45 C1806.57 509.27 1808.05 509.84 1808.9 510.75 C1809.75 511.65 1809.92 512.46 1810.2 513.87 C1810.49 515.29 1810.47 517.55 1810.6 519.21 C1810.74 520.87 1810.72 522.58 1811 523.81 C1811.29 525.04 1811.74 525.79 1812.3 526.57 C1812.87 527.35 1813.92 527.41 1814.4 528.5 C1814.89 529.59 1815.1 531.31 1815.2 533.1 C1815.3 534.9 1815.07 537.21 1815 539.27 C1814.94 541.32 1814.9 543.9 1814.8 545.43 C1814.7 546.96 1814.9 547.7 1814.4 548.47 C1813.9 549.23 1812.79 549.13 1811.8 550.03 C1810.82 550.94 1809.75 552.48 1808.5 553.89 C1807.25 555.31 1805.84 557.21 1804.3 558.49 C1802.77 559.78 1800.84 560.66 1799.3 561.62 C1797.77 562.59 1796.37 563.71 1795.1 564.29 C1793.84 564.87 1792.95 565.18 1791.7 565.12 C1790.45 565.06 1788.99 564.51 1787.6 563.92 C1786.22 563.34 1784.95 562.39 1783.4 561.62 C1781.85 560.86 1780.12 560.09 1778.3 559.32 C1776.49 558.56 1774.17 558.05 1772.5 557.02 C1770.84 556 1769.7 554.71 1768.3 553.16 C1766.9 551.61 1765.22 549.54 1764.1 547.73 C1762.99 545.92 1762.44 544.1 1761.6 542.3 C1760.77 540.51 1759.87 538.38 1759.1 536.97 C1758.34 535.56 1757.42 535.25 1757 533.84 C1756.59 532.43 1756.4 529.91 1756.6 528.5 C1756.8 527.09 1757.59 526.4 1758.2 525.37 C1758.82 524.35 1759.6 523.75 1760.3 522.34 C1761 520.93 1761.64 518.46 1762.4 516.91 C1763.17 515.36 1763.79 513.87 1764.9 513.05 C1766.02 512.22 1767.29 512.26 1769.1 511.94 C1770.92 511.62 1773.7 511.44 1775.8 511.11 C1777.9 510.79 1780.02 510.46 1781.7 510.01 C1783.39 509.57 1784.5 509.15 1785.9 508.45 C1787.3 507.74 1788.5 506.42 1790.1 505.78 C1791.7 505.13 1793.84 504.58 1795.5 504.58Z" fill="#fff" stroke="#000" stroke-width="3.1" stroke-linejoin="round" stroke-dasharray="20 4.5" stroke-dashoffset="9"/>
<circle cx="1774.86" cy="538.9" r="3.8" fill="#5B9340"/>
<ellipse cx="1790.36" cy="551.21" rx="7.6" ry="8.8" fill="#000"/>
<line x1="1407.5" y1="519.7" x2="1455.2" y2="519.7" stroke="#231F20" stroke-width="2.6"/>
<path d="M1474.2 519.7 Q1458.25 524.18 1445.2 535.7 L1453.2 519.7 L1445.2 503.7 Q1458.25 515.22 1474.2 519.7Z" fill="#231F20"/>
<line x1="1650.5" y1="519.8" x2="1697.7" y2="519.8" stroke="#231F20" stroke-width="2.6"/>
<path d="M1716.7 519.8 Q1700.75 524.28 1687.7 535.8 L1695.7 519.8 L1687.7 503.8 Q1700.75 515.32 1716.7 519.8Z" fill="#231F20"/>
<line x1="1599.3" y1="589.2" x2="1652.36" y2="647.9" stroke="#231F20" stroke-width="2.6"/>
<path d="M1665.1 662 Q1651.08 653.17 1633.78 651.21 L1651.02 646.42 L1657.52 629.76 Q1657.73 647.16 1665.1 662Z" fill="#231F20"/>
<line x1="1827.5" y1="565.4" x2="1783.9" y2="640.94" stroke="#231F20" stroke-width="2.6"/>
<path d="M1774.4 657.4 Q1778.49 641.35 1775.04 624.29 L1784.9 639.21 L1802.75 640.28 Q1786.25 645.83 1774.4 657.4Z" fill="#231F20"/>
<line x1="1594.7" y1="727.4" x2="1548" y2="727.4" stroke="#231F20" stroke-width="2.6"/>
<path d="M1529 727.4 Q1544.95 722.92 1558 711.4 L1550 727.4 L1558 743.4 Q1544.95 731.88 1529 727.4Z" fill="#231F20"/>
<path d="M1746.12 712.76 L1785.31 685.41 L1785.31 756.25 L1746.12 803.84Z" fill="#A9A9A7" stroke="#555" stroke-width="0.5"/>
<path d="M1618 701.99 L1620.59 699.84 L1676.57 677.23 L1785.31 685.41 L1746.12 712.76Z" fill="#E6E6E6" stroke="#555" stroke-width="0.5"/>
<path d="M1637.81 699.84 L1660.42 690.15 L1758.4 697.68 L1742.25 708.45Z" fill="none" stroke="#cfcfcf" stroke-width="0.6"/>
<path d="M1618 701.99 L1746.12 712.76 L1746.12 803.84 L1618 787.48Z" fill="#CFCFCD" stroke="#555" stroke-width="0.5"/>
<line x1="1618" y1="707.8" x2="1746.12" y2="720.29" stroke="#444" stroke-width="0.8"/>
<line x1="1618" y1="708.66" x2="1746.12" y2="721.15" stroke="#f2f2f2" stroke-width="0.8"/>
<path d="M1618 741.4 L1746.12 756.47 L1746.12 765.51 L1618 749.36Z" fill="#A3649E"/>
<path d="M1746.12 756.47 L1785.31 714.91 L1785.31 722.88 L1746.12 765.51Z" fill="#7B4A7B"/>
<line x1="1618" y1="749.79" x2="1746.12" y2="765.94" stroke="#efefef" stroke-width="0.8"/>
<line x1="1746.12" y1="766.37" x2="1785.31" y2="723.74" stroke="#e6e6e6" stroke-width="1.2"/>
<line x1="1746.12" y1="712.76" x2="1746.12" y2="803.84" stroke="#555" stroke-width="0.6"/>
<path d="M1618 787.48 L1625.97 788.55 L1625.97 790.49 L1618.86 790.06Z" fill="#444"/>
<path d="M1735.79 802.12 L1744.4 803.2 L1743.76 805.56 L1736.86 804.7Z" fill="#444"/>
<path d="M1779.93 756.25 L1785.31 756.25 L1783.16 759.05Z" fill="#555"/>
<path d="M1625.97 761.21 L1679.8 765.94 L1679.8 780.59 L1625.97 775.85Z" fill="#231F20"/>
<path d="M1607.02 781.23 L1627.05 768.74 L1679.16 771.97 L1679.16 777.36 L1656.55 790.71 L1607.02 785.32Z" fill="#2B2528"/>
<path d="M1619.08 777.36 L1633.94 767.67 L1670.76 770.47 L1654.39 781.02Z" fill="#BDBDBD"/>
<path d="M1619.08 777.36 L1633.94 767.67 L1670.76 770.47 L1654.39 781.02Z" fill="url(#plate)"/>
<!-- Panel E -->
<text x="357.3" y="720.5" font-size="37.9" text-anchor="middle" fill="#1a1a1a">SOD1<tspan font-size="60%" dy="-0.57em" dx="0.14em">A4V</tspan></text>
<text transform="translate(41.5 948) rotate(-90)" font-size="29" text-anchor="middle" fill="#1a1a1a">Reduction of aggregates</text>
<text transform="translate(73.5 941) rotate(-90)" font-size="29" text-anchor="middle" fill="#1a1a1a">relative to control  (%)</text>
<rect x="168.85" y="966.4" width="37.3" height="82.4" fill="#EA2F78"/>
<rect x="175.85" y="973.4" width="23.3" height="75.4" fill="#F59BBB"/>
<rect x="219.45" y="852.6" width="37.3" height="196.2" fill="#00918F"/>
<rect x="226.45" y="859.6" width="23.3" height="189.2" fill="#83C7C9"/>
<rect x="270.15" y="851.4" width="37.3" height="197.4" fill="#9D83BE"/>
<rect x="277.15" y="858.4" width="23.3" height="190.4" fill="#CEC1DE"/>
<rect x="321.15" y="906.3" width="37.3" height="142.5" fill="#7DCEF4"/>
<rect x="328.15" y="913.3" width="23.3" height="135.5" fill="#BEE6FA"/>
<rect x="371.85" y="1002" width="37.3" height="46.8" fill="#F59221"/>
<rect x="378.85" y="1009" width="23.3" height="39.8" fill="#FAC990"/>
<rect x="422.65" y="859.6" width="37.3" height="189.2" fill="#A5292F"/>
<rect x="429.65" y="866.6" width="23.3" height="182.2" fill="#D19598"/>
<rect x="473.35" y="963.4" width="37.3" height="85.4" fill="#000000"/>
<rect x="480.35" y="970.4" width="23.3" height="78.4" fill="#8A93A9"/>
<rect x="182.84" y="839.22" width="9.5" height="9.5" fill="#EA2F78"/>
<rect x="182.84" y="923.67" width="9.5" height="9.5" fill="#EA2F78"/>
<rect x="167.91" y="973.35" width="9.5" height="9.5" fill="#EA2F78"/>
<rect x="167.91" y="993.18" width="9.5" height="9.5" fill="#EA2F78"/>
<rect x="191.23" y="986.65" width="9.5" height="9.5" fill="#EA2F78"/>
<rect x="179.1" y="1025.84" width="9.5" height="9.5" fill="#EA2F78"/>
<rect x="179.1" y="1035.17" width="9.5" height="9.5" fill="#EA2F78"/>
<rect x="167.91" y="1004.84" width="9.5" height="9.5" fill="#EA2F78"/>
<line x1="187.5" y1="948.94" x2="187.5" y2="986.27" stroke="#EA2F78" stroke-width="6.5"/>
<line x1="179.25" y1="948.94" x2="195.75" y2="948.94" stroke="#EA2F78" stroke-width="6.5" stroke-linecap="round"/>
<line x1="179.25" y1="986.27" x2="195.75" y2="986.27" stroke="#EA2F78" stroke-width="6.5" stroke-linecap="round"/>
<path d="M238.44 803.79 L243.44 812.45 L233.44 812.45Z" fill="#00918F"/>
<path d="M238.44 827.58 L243.44 836.24 L233.44 836.24Z" fill="#00918F"/>
<path d="M225.84 835.75 L230.84 844.41 L220.84 844.41Z" fill="#00918F"/>
<path d="M251.03 840.41 L256.03 849.07 L246.03 849.07Z" fill="#00918F"/>
<path d="M238.44 870.74 L243.44 879.4 L233.44 879.4Z" fill="#00918F"/>
<path d="M238.44 917.39 L243.44 926.05 L233.44 926.05Z" fill="#00918F"/>
<line x1="238.1" y1="846.77" x2="238.1" y2="864.97" stroke="#00918F" stroke-width="6.5"/>
<line x1="229.85" y1="846.77" x2="246.35" y2="846.77" stroke="#00918F" stroke-width="6.5" stroke-linecap="round"/>
<line x1="229.85" y1="864.97" x2="246.35" y2="864.97" stroke="#00918F" stroke-width="6.5" stroke-linecap="round"/>
<path d="M276.93 814.48 L281.93 819.48 L276.93 824.48 L271.93 819.48Z" fill="#9D83BE"/>
<path d="M289.29 810.98 L294.29 815.98 L289.29 820.98 L284.29 815.98Z" fill="#9D83BE"/>
<path d="M301.65 812.62 L306.65 817.62 L301.65 822.62 L296.65 817.62Z" fill="#9D83BE"/>
<path d="M289.29 821.95 L294.29 826.95 L289.29 831.95 L284.29 826.95Z" fill="#9D83BE"/>
<path d="M282.99 913.15 L287.99 918.15 L282.99 923.15 L277.99 918.15Z" fill="#9D83BE"/>
<path d="M295.12 908.95 L300.12 913.95 L295.12 918.95 L290.12 913.95Z" fill="#9D83BE"/>
<line x1="288.8" y1="839.78" x2="288.8" y2="866.13" stroke="#9D83BE" stroke-width="6.5"/>
<line x1="280.55" y1="839.78" x2="297.05" y2="839.78" stroke="#9D83BE" stroke-width="6.5" stroke-linecap="round"/>
<line x1="280.55" y1="866.13" x2="297.05" y2="866.13" stroke="#9D83BE" stroke-width="6.5" stroke-linecap="round"/>
<circle cx="339.91" cy="850.97" r="7" fill="#7DCEF4"/>
<circle cx="327.78" cy="882.46" r="7" fill="#7DCEF4"/>
<circle cx="352.27" cy="883.63" r="7" fill="#7DCEF4"/>
<circle cx="352.27" cy="903.46" r="7" fill="#7DCEF4"/>
<circle cx="327.78" cy="911.62" r="7" fill="#7DCEF4"/>
<circle cx="327.78" cy="933.78" r="7" fill="#7DCEF4"/>
<circle cx="352.27" cy="933.78" r="7" fill="#7DCEF4"/>
<circle cx="339.91" cy="945.44" r="7" fill="#7DCEF4"/>
<circle cx="352.27" cy="918.62" r="7" fill="#7DCEF4"/>
<line x1="339.8" y1="897.63" x2="339.8" y2="912.79" stroke="#7DCEF4" stroke-width="6.5"/>
<line x1="331.55" y1="897.63" x2="348.05" y2="897.63" stroke="#7DCEF4" stroke-width="6.5" stroke-linecap="round"/>
<line x1="331.55" y1="912.79" x2="348.05" y2="912.79" stroke="#7DCEF4" stroke-width="6.5" stroke-linecap="round"/>
<rect x="383.76" y="887.13" width="14" height="36.86" fill="#F59221"/>
<rect x="380.73" y="987.43" width="13.53" height="16.33" fill="#F59221"/>
<rect x="380.73" y="1031.75" width="13.53" height="26.83" fill="#F59221"/>
<rect x="368.13" y="1064.87" width="14" height="14" fill="#F59221"/>
<rect x="393.09" y="1069.77" width="14" height="14" fill="#F59221"/>
<rect x="380.26" y="1095.43" width="14" height="14" fill="#F59221"/>
<line x1="390.5" y1="976.93" x2="390.5" y2="1030.12" stroke="#F59221" stroke-width="6.5"/>
<line x1="382.25" y1="976.93" x2="398.75" y2="976.93" stroke="#F59221" stroke-width="6.5" stroke-linecap="round"/>
<line x1="382.25" y1="1030.12" x2="398.75" y2="1030.12" stroke="#F59221" stroke-width="6.5" stroke-linecap="round"/>
<path d="M439.18 811.7 L444.04 811.7 L447.28 817.31 L444.85 821.52 L438.37 821.52 L435.94 817.31Z" fill="#A5292F" stroke="#A5292F" stroke-width="1.2" stroke-linejoin="round"/>
<path d="M451.31 825.69 L456.17 825.69 L459.41 831.31 L456.98 835.52 L450.5 835.52 L448.07 831.31Z" fill="#A5292F" stroke="#A5292F" stroke-width="1.2" stroke-linejoin="round"/>
<path d="M426.81 832.69 L431.68 832.69 L434.92 838.31 L432.49 842.52 L426 842.52 L423.57 838.31Z" fill="#A5292F" stroke="#A5292F" stroke-width="1.2" stroke-linejoin="round"/>
<path d="M439.18 834.56 L444.04 834.56 L447.28 840.17 L444.85 844.38 L438.37 844.38 L435.94 840.17Z" fill="#A5292F" stroke="#A5292F" stroke-width="1.2" stroke-linejoin="round"/>
<path d="M439.18 895.67 L444.04 895.67 L447.28 901.29 L444.85 905.5 L438.37 905.5 L435.94 901.29Z" fill="#A5292F" stroke="#A5292F" stroke-width="1.2" stroke-linejoin="round"/>
<path d="M451.31 888.21 L456.17 888.21 L459.41 893.82 L456.98 898.03 L450.5 898.03 L448.07 893.82Z" fill="#A5292F" stroke="#A5292F" stroke-width="1.2" stroke-linejoin="round"/>
<path d="M439.18 919 L444.04 919 L447.28 924.61 L444.85 928.82 L438.37 928.82 L435.94 924.61Z" fill="#A5292F" stroke="#A5292F" stroke-width="1.2" stroke-linejoin="round"/>
<line x1="441.3" y1="849.11" x2="441.3" y2="874.3" stroke="#A5292F" stroke-width="6.5"/>
<line x1="433.05" y1="849.11" x2="449.55" y2="849.11" stroke="#A5292F" stroke-width="6.5" stroke-linecap="round"/>
<line x1="433.05" y1="874.3" x2="449.55" y2="874.3" stroke="#A5292F" stroke-width="6.5" stroke-linecap="round"/>
<path d="M480.1 877.53 L484.85 885.75 L475.35 885.75Z" fill="#000"/>
<path d="M505.06 878.23 L509.81 886.45 L500.31 886.45Z" fill="#000"/>
<path d="M492.23 930.01 L496.98 938.24 L487.48 938.24Z" fill="#000"/>
<path d="M489.2 1001.16 L493.95 1009.38 L484.45 1009.38Z" fill="#0B1424"/>
<path d="M489.2 1013.52 L493.95 1021.75 L484.45 1021.75Z" fill="#0B1424"/>
<path d="M501.09 1026.82 L505.84 1035.04 L496.34 1035.04Z" fill="#0B1424"/>
<path d="M477.07 1031.48 L481.82 1039.71 L472.32 1039.71Z" fill="#0B1424"/>
<path d="M489.2 966.17 L493.95 974.39 L484.45 974.39Z" fill="#0B1424"/>
<line x1="492" y1="945.91" x2="492" y2="984.63" stroke="#000" stroke-width="6.5"/>
<line x1="483.75" y1="945.91" x2="500.25" y2="945.91" stroke="#000" stroke-width="6.5" stroke-linecap="round"/>
<line x1="483.75" y1="984.63" x2="500.25" y2="984.63" stroke="#000" stroke-width="6.5" stroke-linecap="round"/>
<line x1="154.2" y1="780.9" x2="154.2" y2="1116.6" stroke="#000" stroke-width="4.8"/>
<line x1="150.8" y1="1114.2" x2="519.3" y2="1114.2" stroke="#000" stroke-width="4.8"/>
<line x1="141.5" y1="1048.8" x2="519" y2="1048.8" stroke="#000" stroke-width="5.4" stroke-linecap="round"/>
<line x1="385.8" y1="1050.3" x2="388.8" y2="1050.3" stroke="#F59221" stroke-width="0.8"/>
<line x1="143.5" y1="783.3" x2="154.2" y2="783.3" stroke="#000" stroke-width="4.8" stroke-linecap="round"/>
<line x1="143.5" y1="914.4" x2="154.2" y2="914.4" stroke="#000" stroke-width="4.8" stroke-linecap="round"/>
<line x1="184.3" y1="1114.2" x2="184.3" y2="1124.6" stroke="#000" stroke-width="4.8"/>
<line x1="234.9" y1="1114.2" x2="234.9" y2="1124.6" stroke="#000" stroke-width="4.8"/>
<line x1="285.6" y1="1114.2" x2="285.6" y2="1124.6" stroke="#000" stroke-width="4.8"/>
<line x1="336.6" y1="1114.2" x2="336.6" y2="1124.6" stroke="#000" stroke-width="4.8"/>
<line x1="387.3" y1="1114.2" x2="387.3" y2="1124.6" stroke="#000" stroke-width="4.8"/>
<line x1="438.1" y1="1114.2" x2="438.1" y2="1124.6" stroke="#000" stroke-width="4.8"/>
<line x1="488.8" y1="1114.2" x2="488.8" y2="1124.6" stroke="#000" stroke-width="4.8"/>
<text transform="translate(104.6 790.9) scale(0.94 1)" font-size="30.3" text-anchor="middle">100</text>
<text transform="translate(104.6 922) scale(0.94 1)" font-size="30.3" text-anchor="middle">50</text>
<text transform="translate(104.6 1056.4) scale(0.94 1)" font-size="30.3" text-anchor="middle">0</text>
<text transform="translate(172.35 1165.79) rotate(-46)" font-size="29.3" text-anchor="middle">BP1</text>
<text transform="translate(224.25 1165.79) rotate(-46)" font-size="29.3" text-anchor="middle">BP2</text>
<text transform="translate(271.15 1167.89) rotate(-46)" font-size="29.3" text-anchor="middle">BP3</text>
<text transform="translate(322.45 1167.89) rotate(-46)" font-size="29.3" text-anchor="middle">BP4</text>
<text transform="translate(373.15 1167.89) rotate(-46)" font-size="29.3" text-anchor="middle">BP5</text>
<text transform="translate(424.15 1167.89) rotate(-46)" font-size="29.3" text-anchor="middle">BP6</text>
<text transform="translate(473.35 1167.89) rotate(-46)" font-size="29.3" text-anchor="middle">BP7</text>
<text x="236.3" y="787.5" font-size="27" text-anchor="middle" letter-spacing="0.5">****</text>
<text x="287" y="800.5" font-size="27" text-anchor="middle" letter-spacing="0.5">****</text>
<text x="337" y="787.5" font-size="27" text-anchor="middle" letter-spacing="0.5">***</text>
<text x="440.5" y="787.5" font-size="27" text-anchor="middle" letter-spacing="0.5">****</text>
<text x="491.8" y="800.5" font-size="27" text-anchor="middle" letter-spacing="0.5">*</text>
<!-- Panel F -->
<rect x="574" y="1045.5" width="1.2" height="6" fill="#8a8a8a"/>
<rect x="574" y="1111.5" width="1.2" height="6" fill="#c4c4c4"/>
<line x1="697" y1="766.3" x2="697" y2="1119.5" stroke="#000" stroke-width="2.6"/>
<line x1="681" y1="1114.5" x2="1134.7" y2="1114.5" stroke="#000" stroke-width="2.6"/>
<text x="681" y="1124.7" font-size="29" text-anchor="end">0</text>
<line x1="681" y1="1027.78" x2="697" y2="1027.78" stroke="#000" stroke-width="2.6"/>
<text x="681" y="1037.98" font-size="29" text-anchor="end">20</text>
<line x1="681" y1="941.05" x2="697" y2="941.05" stroke="#000" stroke-width="2.6"/>
<text x="681" y="951.25" font-size="29" text-anchor="end">40</text>
<line x1="681" y1="854.33" x2="697" y2="854.33" stroke="#000" stroke-width="2.6"/>
<text x="681" y="864.53" font-size="29" text-anchor="end">60</text>
<line x1="681" y1="767.6" x2="697" y2="767.6" stroke="#000" stroke-width="2.6"/>
<text x="681" y="777.8" font-size="29" text-anchor="end">80</text>
<text x="697" y="1159" font-size="29" text-anchor="middle">0</text>
<line x1="784.28" y1="1114.5" x2="784.28" y2="1119.5" stroke="#000" stroke-width="2.6"/>
<text x="784.28" y="1159" font-size="29" text-anchor="middle">2</text>
<line x1="871.56" y1="1114.5" x2="871.56" y2="1119.5" stroke="#000" stroke-width="2.6"/>
<text x="871.56" y="1159" font-size="29" text-anchor="middle">4</text>
<line x1="958.84" y1="1114.5" x2="958.84" y2="1119.5" stroke="#000" stroke-width="2.6"/>
<text x="958.84" y="1159" font-size="29" text-anchor="middle">6</text>
<line x1="1046.12" y1="1114.5" x2="1046.12" y2="1119.5" stroke="#000" stroke-width="2.6"/>
<text x="1046.12" y="1159" font-size="29" text-anchor="middle">8</text>
<line x1="1133.4" y1="1114.5" x2="1133.4" y2="1119.5" stroke="#000" stroke-width="2.6"/>
<text x="1133.4" y="1159" font-size="29" text-anchor="middle">10</text>
<text x="913" y="1210" font-size="29" text-anchor="middle" fill="#1a1a1a">BioPROTAC expression (RFU)</text>
<text transform="translate(611.5 1189) rotate(-90)" font-size="28.8" fill="#1a1a1a">SOD1<tspan font-size="60%" dy="-0.6em">A4V</tspan><tspan dy="0.36em">-EGFP  fluorescence (RFU)</tspan></text>
<circle cx="740.58" cy="835.48" r="6.8" fill="#231F20"/>
<circle cx="752.78" cy="888.76" r="8.3" fill="#2E3192"/>
<circle cx="859.74" cy="911.13" r="7.2" fill="#29ABE2"/>
<circle cx="740.58" cy="929.84" r="8.3" fill="#A8343A"/>
<circle cx="754.81" cy="996.13" r="7.2" fill="#EC1C72"/>
<circle cx="789.79" cy="1014.84" r="8.6" fill="#F7931E"/>
<circle cx="736.51" cy="1053.88" r="7.2" fill="#1B8A85"/>
<circle cx="1065.94" cy="1094.14" r="7.2" fill="#CC66FF"/>
<circle cx="740.58" cy="929.84" r="4.5" fill="#8E1117"/>
<text x="762.13" y="820.03" font-size="32.4">Control</text>
<text x="778.81" y="883.47" font-size="32.4" fill="#1C3F8E">BP7****</text>
<text x="891.46" y="921.7" font-size="32.4" fill="#5BC8F5">BP4****</text>
<text x="763.35" y="944.07" font-size="32.4" fill="#8B1519">BP6</text>
<text x="778.81" y="995.72" font-size="32.4" fill="#E6007E">BP1****</text>
<text x="814.19" y="1028.26" font-size="32.4" fill="#F7931E">BP5****</text>
<text x="766.2" y="1074.22" font-size="32.4" fill="#1B8A85">BP2</text>
<text x="1096.03" y="1099.43" font-size="32.4" fill="#CC66FF">BP3****</text>
<!-- Panel G -->
<path d="M1361.53 1074.94 L1507.46 1074.94 L1522.42 1073.44 L1537.37 1070.45 L1549.33 1052.51 L1568.77 986.72 L1585.22 935.29 L1601.66 930.5 L1618.11 995.69 L1634.56 1039.06 L1651 1058.49 L1665.96 1068.06 L1682.4 1071.35 L1698.85 1072.85 L1713.8 1074.64 L1728.76 1072.55 L1745.2 1074.94 L1758.66 1074.04 L1773.61 1074.94 L1808.9 1074.94 L1808.9 1074.94 L1361.53 1074.94Z" fill="#595A96" fill-opacity="0.62"/>
<path d="M1361.53 1074.94 L1507.46 1074.94 L1522.42 1073.44 L1537.37 1070.45 L1549.33 1052.51 L1568.77 986.72 L1585.22 935.29 L1601.66 930.5 L1618.11 995.69 L1634.56 1039.06 L1651 1058.49 L1665.96 1068.06 L1682.4 1071.35 L1698.85 1072.85 L1713.8 1074.64 L1728.76 1072.55 L1745.2 1074.94 L1758.66 1074.04 L1773.61 1074.94 L1808.9 1074.94" fill="none" stroke="#2B2C7C" stroke-width="7.6" stroke-linejoin="round"/>
<circle cx="1361.53" cy="1074.94" r="3.8" fill="#2B2C7C"/>
<path d="M1361.53 1118.3 L1504.47 1118.3 L1520.92 1116.81 L1537.37 1106.34 L1552.92 1067.46 L1568.77 979.25 L1585.22 974.16 L1601.66 1028.59 L1618.11 1085.41 L1634.56 1103.95 L1651 1110.23 L1665.96 1113.52 L1682.4 1115.91 L1698.85 1116.81 L1728.76 1118 L1758.66 1118.3 L1808.9 1118.3 L1808.9 1118.3 L1361.53 1118.3Z" fill="#B55256" fill-opacity="0.62"/>
<path d="M1361.53 1118.3 L1504.47 1118.3 L1520.92 1116.81 L1537.37 1106.34 L1552.92 1067.46 L1568.77 979.25 L1585.22 974.16 L1601.66 1028.59 L1618.11 1085.41 L1634.56 1103.95 L1651 1110.23 L1665.96 1113.52 L1682.4 1115.91 L1698.85 1116.81 L1728.76 1118 L1758.66 1118.3 L1808.9 1118.3" fill="none" stroke="#7F1519" stroke-width="7.6" stroke-linejoin="round"/>
<circle cx="1361.53" cy="1118.3" r="3.8" fill="#7F1519"/>
<path d="M1361.53 1161.66 L1459.62 1161.66 L1474.57 1160.77 L1489.52 1157.18 L1505.97 1133.25 L1521.52 1079.43 L1537.37 1018.12 L1552.92 1067.46 L1568.77 1121.29 L1585.22 1143.72 L1601.66 1153.59 L1618.11 1157.18 L1634.56 1158.67 L1665.96 1161.06 L1698.85 1161.66 L1808.9 1161.66 L1808.9 1161.66 L1361.53 1161.66Z" fill="#F49D4E" fill-opacity="0.62"/>
<path d="M1361.53 1161.66 L1459.62 1161.66 L1474.57 1160.77 L1489.52 1157.18 L1505.97 1133.25 L1521.52 1079.43 L1537.37 1018.12 L1552.92 1067.46 L1568.77 1121.29 L1585.22 1143.72 L1601.66 1153.59 L1618.11 1157.18 L1634.56 1158.67 L1665.96 1161.06 L1698.85 1161.66 L1808.9 1161.66" fill="none" stroke="#F08223" stroke-width="7.6" stroke-linejoin="round"/>
<circle cx="1361.53" cy="1161.66" r="3.8" fill="#F08223"/>
<path d="M1361.53 1205.02 L1522.42 1205.02 L1537.37 1204.43 L1552.92 1200.54 L1568.77 1139.23 L1585.22 1062.98 L1601.66 1121.29 L1618.11 1178.11 L1634.56 1194.56 L1651 1200.54 L1665.96 1202.93 L1698.85 1204.43 L1728.76 1205.02 L1808.9 1205.02 L1808.9 1205.02 L1361.53 1205.02Z" fill="#89ADDB" fill-opacity="0.62"/>
<path d="M1361.53 1205.02 L1522.42 1205.02 L1537.37 1204.43 L1552.92 1200.54 L1568.77 1139.23 L1585.22 1062.98 L1601.66 1121.29 L1618.11 1178.11 L1634.56 1194.56 L1651 1200.54 L1665.96 1202.93 L1698.85 1204.43 L1728.76 1205.02 L1808.9 1205.02" fill="none" stroke="#6B9BD3" stroke-width="7.2" stroke-linejoin="round"/>
<circle cx="1361.53" cy="1205.02" r="3.6" fill="#6B9BD3"/>
<path d="M1361.53 1245.69 L1361.53 1245.69 L1378.88 1243.3 L1395.32 1224.46 L1410.87 1163.16 L1426.72 1104.84 L1442.57 1133.25 L1458.12 1202.03 L1474.57 1230.44 L1489.52 1241.51 L1505.97 1245.39 L1522.42 1246.89 L1549.33 1247.79 L1808.9 1247.79 L1808.9 1246.89 L1361.53 1246.89Z" fill="#CBA8CF" fill-opacity="0.62"/>
<path d="M1361.53 1245.69 L1361.53 1245.69 L1378.88 1243.3 L1395.32 1224.46 L1410.87 1163.16 L1426.72 1104.84 L1442.57 1133.25 L1458.12 1202.03 L1474.57 1230.44 L1489.52 1241.51 L1505.97 1245.39 L1522.42 1246.89 L1549.33 1247.79 L1808.9 1247.79" fill="none" stroke="#BC8EC3" stroke-width="7.2" stroke-linejoin="round"/>
<circle cx="1361.53" cy="1245.69" r="3.6" fill="#BC8EC3"/>
<path d="M1361.53 1306.7 L1426.72 1306.7 L1443.17 1306.4 L1458.72 1304.31 L1474.57 1288.76 L1489.52 1234.93 L1505.97 1188.58 L1521.52 1243.9 L1537.37 1285.77 L1552.92 1299.22 L1568.77 1303.71 L1585.22 1306.1 L1609.14 1306.7 L1808.9 1306.7 L1808.9 1306.7 L1361.53 1306.7Z" fill="#399B99" fill-opacity="0.62"/>
<path d="M1361.53 1306.7 L1426.72 1306.7 L1443.17 1306.4 L1458.72 1304.31 L1474.57 1288.76 L1489.52 1234.93 L1505.97 1188.58 L1521.52 1243.9 L1537.37 1285.77 L1552.92 1299.22 L1568.77 1303.71 L1585.22 1306.1 L1609.14 1306.7 L1808.9 1306.7" fill="none" stroke="#00817E" stroke-width="7.6" stroke-linejoin="round"/>
<circle cx="1361.53" cy="1306.7" r="3.8" fill="#00817E"/>
<path d="M1361.53 1341.99 L1489.52 1341.99 L1505.97 1335.11 L1521.52 1288.76 L1537.37 1224.46 L1552.92 1251.38 L1568.77 1306.7 L1585.22 1330.62 L1601.66 1337.2 L1618.11 1339.59 L1651 1339 L1668.95 1340.79 L1808.9 1341.99 L1808.9 1341.99 L1361.53 1341.99Z" fill="#F277B0" fill-opacity="0.8"/>
<path d="M1361.53 1341.99 L1489.52 1341.99 L1505.97 1335.11 L1521.52 1288.76 L1537.37 1224.46 L1552.92 1251.38 L1568.77 1306.7 L1585.22 1330.62 L1601.66 1337.2 L1618.11 1339.59 L1651 1339 L1668.95 1340.79 L1808.9 1341.99" fill="none" stroke="#F594C3" stroke-width="8.5" stroke-linejoin="round"/>
<circle cx="1361.53" cy="1341.99" r="4.25" fill="#F594C3"/>
<path d="M1361.53 1341.99 L1489.52 1341.99 L1505.97 1335.11 L1521.52 1288.76 L1537.37 1224.46 L1552.92 1251.38 L1568.77 1306.7 L1585.22 1330.62 L1601.66 1337.2 L1618.11 1339.59 L1651 1339 L1668.95 1340.79 L1808.9 1341.99" fill="none" stroke="#EE4B9B" stroke-width="2.6" stroke-linejoin="round"/>
<path d="M1331.03 1376.97 L1519.43 1376.97 L1537.37 1373.98 L1552.92 1363.52 L1568.77 1324.64 L1585.22 1272.31 L1601.66 1257.36 L1618.11 1273.8 L1634.56 1321.65 L1651 1345.57 L1665.96 1359.03 L1682.4 1368 L1698.85 1370.1 L1713.8 1372.49 L1745.2 1374.88 L1808.9 1376.97 L1808.9 1378.47 L1331.03 1378.47Z" fill="#000" stroke="#000" stroke-width="3" stroke-linejoin="round"/>
<line x1="1330.5" y1="1377.3" x2="1809.3" y2="1377.3" stroke="#000" stroke-width="5.6" stroke-linecap="round"/>
<line x1="1331.3" y1="1377.3" x2="1331.3" y2="1388" stroke="#000" stroke-width="5.6" stroke-linecap="round"/>
<line x1="1490.4" y1="1377.3" x2="1490.4" y2="1388" stroke="#000" stroke-width="5.6" stroke-linecap="round"/>
<line x1="1648.2" y1="1377.3" x2="1648.2" y2="1388" stroke="#000" stroke-width="5.6" stroke-linecap="round"/>
<line x1="1807.6" y1="1377.3" x2="1807.6" y2="1388" stroke="#000" stroke-width="5.6" stroke-linecap="round"/>
<text x="1327.8" y="1421.3" font-size="29" text-anchor="middle">0</text>
<text x="1486.9" y="1421.3" font-size="29" text-anchor="middle">1</text>
<text x="1644.7" y="1421.3" font-size="29" text-anchor="middle">2</text>
<text x="1804.1" y="1421.3" font-size="29" text-anchor="middle">3</text>
<text x="1324" y="1457.5" font-size="29.4" fill="#1a1a1a">SOD1<tspan font-size="60%" dy="-0.6em">A4V</tspan><tspan dy="0.36em">-EGFP fluorescence (RFU)</tspan></text>
<text transform="translate(1303.5 1208.5) rotate(-90)" font-size="28.1" text-anchor="middle" fill="#1a1a1a">Normalised number of cells</text>
<text x="1821.5" y="1076.5" font-size="29.1">BP7</text>
<text x="1821.5" y="1120" font-size="29.1">BP6</text>
<text x="1821.5" y="1165.5" font-size="29.1">BP5</text>
<text x="1821.5" y="1206.5" font-size="29.1">BP4</text>
<text x="1821.5" y="1252" font-size="29.1">BP3</text>
<text x="1821.5" y="1306.5" font-size="29.1">BP2</text>
<text x="1821.5" y="1352.5" font-size="29.1">BP1</text>
<text x="1821.5" y="1391" font-size="29.1">Control</text>
<text x="1708.5" y="1016" font-size="29.5">All BPs ****</text>
<!-- Panel H -->
<rect x="464.8" y="1366" width="456.3" height="540.8" fill="#fff"/>
<rect x="464.8" y="1366" width="65.59" height="45.47" fill="#0000FF"/>
<rect x="529.99" y="1366" width="65.59" height="45.47" fill="#2222FF"/>
<rect x="595.17" y="1366" width="65.59" height="45.47" fill="#3030FF"/>
<rect x="660.36" y="1366" width="65.59" height="45.47" fill="#6666FF"/>
<rect x="725.54" y="1366" width="65.59" height="45.47" fill="#D0D0FF"/>
<rect x="790.73" y="1366" width="65.59" height="45.47" fill="#5050FF"/>
<rect x="855.91" y="1366" width="65.59" height="45.47" fill="#2020FF"/>
<rect x="464.8" y="1411.07" width="65.59" height="45.47" fill="#3838FF"/>
<rect x="529.99" y="1411.07" width="65.59" height="45.47" fill="#0000FF"/>
<rect x="595.17" y="1411.07" width="65.59" height="45.47" fill="#8484FF"/>
<rect x="660.36" y="1411.07" width="65.59" height="45.47" fill="#5050FF"/>
<rect x="725.54" y="1411.07" width="65.59" height="45.47" fill="#8C8CFF"/>
<rect x="790.73" y="1411.07" width="65.59" height="45.47" fill="#3030FF"/>
<rect x="855.91" y="1411.07" width="65.59" height="45.47" fill="#F8F8FF"/>
<rect x="464.8" y="1456.13" width="65.59" height="45.47" fill="#9494FF"/>
<rect x="529.99" y="1456.13" width="65.59" height="45.47" fill="#0000FF"/>
<rect x="595.17" y="1456.13" width="65.59" height="45.47" fill="#0000FF"/>
<rect x="660.36" y="1456.13" width="65.59" height="45.47" fill="#4848FF"/>
<rect x="725.54" y="1456.13" width="65.59" height="45.47" fill="#C8C8FF"/>
<rect x="790.73" y="1456.13" width="65.59" height="45.47" fill="#0A0AFF"/>
<rect x="855.91" y="1456.13" width="65.59" height="45.47" fill="#9090FF"/>
<rect x="464.8" y="1501.2" width="65.59" height="45.47" fill="#6060FF"/>
<rect x="529.99" y="1501.2" width="65.59" height="45.47" fill="#2424FF"/>
<rect x="595.17" y="1501.2" width="65.59" height="45.47" fill="#0000FF"/>
<rect x="660.36" y="1501.2" width="65.59" height="45.47" fill="#B0B0FF"/>
<rect x="725.54" y="1501.2" width="65.59" height="45.47" fill="#5050FF"/>
<rect x="790.73" y="1501.2" width="65.59" height="45.47" fill="#A0A0FF"/>
<rect x="855.91" y="1501.2" width="65.59" height="45.47" fill="#CACAFF"/>
<rect x="464.8" y="1546.27" width="65.59" height="45.47" fill="#4040FF"/>
<rect x="529.99" y="1546.27" width="65.59" height="45.47" fill="#0000FF"/>
<rect x="595.17" y="1546.27" width="65.59" height="45.47" fill="#1818FF"/>
<rect x="660.36" y="1546.27" width="65.59" height="45.47" fill="#2828FF"/>
<rect x="725.54" y="1546.27" width="65.59" height="45.47" fill="#7878FF"/>
<rect x="790.73" y="1546.27" width="65.59" height="45.47" fill="#7C7CFF"/>
<rect x="855.91" y="1546.27" width="65.59" height="45.47" fill="#6868FF"/>
<rect x="464.8" y="1591.33" width="65.59" height="45.47" fill="#1C1CFF"/>
<rect x="529.99" y="1591.33" width="65.59" height="45.47" fill="#0C0CFF"/>
<rect x="595.17" y="1591.33" width="65.59" height="45.47" fill="#0000FF"/>
<rect x="660.36" y="1591.33" width="65.59" height="45.47" fill="#6060FF"/>
<rect x="725.54" y="1591.33" width="65.59" height="45.47" fill="#2828FF"/>
<rect x="790.73" y="1591.33" width="65.59" height="45.47" fill="#1818FF"/>
<rect x="855.91" y="1591.33" width="65.59" height="45.47" fill="#2424FF"/>
<rect x="464.8" y="1636.4" width="65.59" height="45.47" fill="#3030FF"/>
<rect x="529.99" y="1636.4" width="65.59" height="45.47" fill="#0000FF"/>
<rect x="595.17" y="1636.4" width="65.59" height="45.47" fill="#2828FF"/>
<rect x="660.36" y="1636.4" width="65.59" height="45.47" fill="#5454FF"/>
<rect x="725.54" y="1636.4" width="65.59" height="45.47" fill="#6868FF"/>
<rect x="790.73" y="1636.4" width="65.59" height="45.47" fill="#8C8CFF"/>
<rect x="855.91" y="1636.4" width="65.59" height="45.47" fill="#6868FF"/>
<rect x="464.8" y="1681.47" width="65.59" height="45.47" fill="#2020FF"/>
<rect x="529.99" y="1681.47" width="65.59" height="45.47" fill="#0000FF"/>
<rect x="595.17" y="1681.47" width="65.59" height="45.47" fill="#1010FF"/>
<rect x="660.36" y="1681.47" width="65.59" height="45.47" fill="#F0F0FF"/>
<rect x="725.54" y="1681.47" width="65.59" height="45.47" fill="#9C9CFF"/>
<rect x="790.73" y="1681.47" width="65.59" height="45.47" fill="#4444FF"/>
<rect x="855.91" y="1681.47" width="65.59" height="45.47" fill="#CCCCFF"/>
<rect x="464.8" y="1726.53" width="65.59" height="45.47" fill="#3030FF"/>
<rect x="529.99" y="1726.53" width="65.59" height="45.47" fill="#2C2CFF"/>
<rect x="595.17" y="1726.53" width="65.59" height="45.47" fill="#FFFFFF"/>
<rect x="660.36" y="1726.53" width="65.59" height="45.47" fill="#8080FF"/>
<rect x="725.54" y="1726.53" width="65.59" height="45.47" fill="#A4A4FF"/>
<rect x="790.73" y="1726.53" width="65.59" height="45.47" fill="#0000FF"/>
<line x1="855.91" y1="1726.53" x2="921.1" y2="1771.6" stroke="#000" stroke-width="1.1"/>
<line x1="855.91" y1="1771.6" x2="921.1" y2="1726.53" stroke="#000" stroke-width="1.1"/>
<rect x="464.8" y="1771.6" width="65.59" height="45.47" fill="#3030FF"/>
<rect x="529.99" y="1771.6" width="65.59" height="45.47" fill="#0000FF"/>
<rect x="595.17" y="1771.6" width="65.59" height="45.47" fill="#A4A4FF"/>
<rect x="660.36" y="1771.6" width="65.59" height="45.47" fill="#7878FF"/>
<rect x="725.54" y="1771.6" width="65.59" height="45.47" fill="#8484FF"/>
<rect x="790.73" y="1771.6" width="65.59" height="45.47" fill="#E0E0FF"/>
<line x1="855.91" y1="1771.6" x2="921.1" y2="1816.67" stroke="#000" stroke-width="1.1"/>
<line x1="855.91" y1="1816.67" x2="921.1" y2="1771.6" stroke="#000" stroke-width="1.1"/>
<rect x="464.8" y="1816.67" width="65.59" height="45.47" fill="#7878FF"/>
<rect x="529.99" y="1816.67" width="65.59" height="45.47" fill="#0000FF"/>
<rect x="595.17" y="1816.67" width="65.59" height="45.47" fill="#1C1CFF"/>
<rect x="660.36" y="1816.67" width="65.59" height="45.47" fill="#5050FF"/>
<rect x="725.54" y="1816.67" width="65.59" height="45.47" fill="#9898FF"/>
<rect x="790.73" y="1816.67" width="65.59" height="45.47" fill="#5050FF"/>
<line x1="855.91" y1="1816.67" x2="921.1" y2="1861.73" stroke="#000" stroke-width="1.1"/>
<line x1="855.91" y1="1861.73" x2="921.1" y2="1816.67" stroke="#000" stroke-width="1.1"/>
<rect x="464.8" y="1861.73" width="65.59" height="45.47" fill="#0000FF"/>
<rect x="529.99" y="1861.73" width="65.59" height="45.47" fill="#1010FF"/>
<rect x="595.17" y="1861.73" width="65.59" height="45.47" fill="#4040FF"/>
<rect x="660.36" y="1861.73" width="65.59" height="45.47" fill="#1414FF"/>
<rect x="725.54" y="1861.73" width="65.59" height="45.47" fill="#FFFFFF"/>
<rect x="790.73" y="1861.73" width="65.59" height="45.47" fill="#8484FF"/>
<line x1="855.91" y1="1861.73" x2="921.1" y2="1906.8" stroke="#000" stroke-width="1.1"/>
<line x1="855.91" y1="1906.8" x2="921.1" y2="1861.73" stroke="#000" stroke-width="1.1"/>
<rect x="463.4" y="1364.6" width="459.1" height="543.6" fill="none" stroke="#000" stroke-width="3.2"/>
<rect x="16.05" y="1365.45" width="441.9" height="541.5" fill="none" stroke="#231F20" stroke-width="3.3"/>
<line x1="14.4" y1="1551" x2="459.6" y2="1551" stroke="#231F20" stroke-width="3.3"/>
<line x1="14.4" y1="1720.3" x2="459.6" y2="1720.3" stroke="#231F20" stroke-width="3.3"/>
<text x="450.5" y="1393.54" font-size="29.5" text-anchor="end" fill="#1a1a1a">Solubility</text>
<text x="450.5" y="1434.11" font-size="29.5" text-anchor="end" fill="#1a1a1a">A4V total fluorescence</text>
<text x="450.5" y="1482.29" font-size="29.5" text-anchor="end" fill="#1a1a1a">A4V aggregates</text>
<text x="442.5" y="1529.2" font-size="29.5" text-anchor="end" fill="#1a1a1a">A4V ICC fluorescence</text>
<text x="450.5" y="1581.19" font-size="29.5" text-anchor="end" fill="#1a1a1a">A4V total fluorescence</text>
<text x="450.5" y="1625.57" font-size="29.5" text-anchor="end" fill="#1a1a1a">A4V aggregates</text>
<text x="450.5" y="1673.11" font-size="29.5" text-anchor="end" fill="#1a1a1a">G93A total fluorescence</text>
<text x="450.5" y="1714.32" font-size="29.5" text-anchor="end" fill="#1a1a1a">G93A aggregates</text>
<text x="450.5" y="1761.87" font-size="29.5" text-anchor="end" fill="#1a1a1a">A4V total fluorescence</text>
<text x="450.5" y="1806.24" font-size="29.5" text-anchor="end" fill="#1a1a1a">A4V aggregates</text>
<text x="450.5" y="1851.25" font-size="29.5" text-anchor="end" fill="#1a1a1a">G93A total fluorescence</text>
<text x="450.5" y="1896.26" font-size="29.5" text-anchor="end" fill="#1a1a1a">G93A aggregates</text>
<text x="28" y="1487.23" font-size="29.3">HEK293</text>
<text x="28" y="1652.69" font-size="29.3">N2a</text>
<text x="28" y="1805.48" font-size="29.3">SH-SY5Y</text>
<rect x="949" y="1364.1" width="27" height="544.5" fill="url(#cbar)" stroke="#111" stroke-width="2"/>
<line x1="949.5" y1="1474" x2="953.5" y2="1474" stroke="#231F20" stroke-width="1.4"/>
<line x1="972" y1="1474" x2="976" y2="1474" stroke="#231F20" stroke-width="1.4"/>
<line x1="949.5" y1="1581.8" x2="953.5" y2="1581.8" stroke="#231F20" stroke-width="1.4"/>
<line x1="972" y1="1581.8" x2="976" y2="1581.8" stroke="#231F20" stroke-width="1.4"/>
<line x1="949.5" y1="1690.6" x2="953.5" y2="1690.6" stroke="#231F20" stroke-width="1.4"/>
<line x1="972" y1="1690.6" x2="976" y2="1690.6" stroke="#231F20" stroke-width="1.4"/>
<line x1="949.5" y1="1798.8" x2="953.5" y2="1798.8" stroke="#231F20" stroke-width="1.4"/>
<line x1="972" y1="1798.8" x2="976" y2="1798.8" stroke="#231F20" stroke-width="1.4"/>
<text x="966.5" y="1305.5" font-size="29.3" text-anchor="middle" fill="#1a1a1a">Most</text>
<text x="970.5" y="1341.5" font-size="29.3" text-anchor="middle" fill="#1a1a1a">effective</text>
<text x="972" y="1955" font-size="29.3" text-anchor="middle" fill="#1a1a1a">Least</text>
<text x="975.5" y="1990" font-size="29.3" text-anchor="middle" fill="#1a1a1a">effective</text>
<text transform="translate(483.7 1968.9) rotate(-47)" font-size="27.4" text-anchor="middle">BP1</text>
<text transform="translate(562.4 1968.9) rotate(-47)" font-size="27.4" text-anchor="middle">BP2</text>
<text transform="translate(622.7 1968.9) rotate(-47)" font-size="27.4" text-anchor="middle">BP3</text>
<text transform="translate(689.7 1970.6) rotate(-47)" font-size="27.4" text-anchor="middle">BP4</text>
<text transform="translate(760 1968.9) rotate(-47)" font-size="27.4" text-anchor="middle">BP5</text>
<text transform="translate(832 1968.9) rotate(-47)" font-size="27.4" text-anchor="middle">BP6</text>
<text transform="translate(894 1967.2) rotate(-47)" font-size="27.4" text-anchor="middle">BP7</text>
<!-- Panel I -->
<text transform="translate(68.8 2304) rotate(-90)" font-size="28.3" text-anchor="middle" fill="#1a1a1a">Reduction of aggregates</text>
<text transform="translate(109.6 2296) rotate(-90)" font-size="28.3" text-anchor="middle" fill="#1a1a1a">relative to control  (%)</text>
<rect x="191" y="2236.05" width="37.4" height="167.95" fill="#00918F"/>
<rect x="198" y="2243.05" width="23.4" height="160.95" fill="#83C7C9"/>
<line x1="209.4" y1="2217.75" x2="209.4" y2="2238.05" stroke="#00918F" stroke-width="2.6"/>
<line x1="199.9" y1="2217.75" x2="218.9" y2="2217.75" stroke="#00918F" stroke-width="2.6"/>
<circle cx="209.45" cy="2199.05" r="5.6" fill="#00918F"/>
<circle cx="198.47" cy="2258.42" r="5.6" fill="#00918F"/>
<circle cx="220.84" cy="2256.39" r="5.6" fill="#00918F"/>
<rect x="241.84" y="2239.31" width="37.4" height="164.69" fill="#00918F"/>
<rect x="248.84" y="2246.31" width="23.4" height="157.69" fill="#83C7C9"/>
<line x1="260.24" y1="2221.82" x2="260.24" y2="2241.31" stroke="#00918F" stroke-width="2.6"/>
<line x1="250.74" y1="2221.82" x2="269.74" y2="2221.82" stroke="#00918F" stroke-width="2.6"/>
<circle cx="260.29" cy="2202.71" r="5.6" fill="#00918F"/>
<circle cx="249.31" cy="2261.68" r="5.6" fill="#00918F"/>
<circle cx="271.68" cy="2259.24" r="5.6" fill="#00918F"/>
<rect x="292.68" y="2256.39" width="37.4" height="147.61" fill="#00918F"/>
<rect x="299.68" y="2263.39" width="23.4" height="140.61" fill="#83C7C9"/>
<circle cx="300.15" cy="2258.42" r="5.6" fill="#00918F"/>
<circle cx="311.13" cy="2254.76" r="5.6" fill="#00918F"/>
<circle cx="323.33" cy="2257.2" r="5.6" fill="#00918F"/>
<rect x="343.52" y="2216.13" width="37.4" height="187.87" fill="#00918F"/>
<rect x="350.52" y="2223.13" width="23.4" height="180.87" fill="#83C7C9"/>
<line x1="361.92" y1="2201.08" x2="361.92" y2="2218.13" stroke="#00918F" stroke-width="2.6"/>
<line x1="352.42" y1="2201.08" x2="371.42" y2="2201.08" stroke="#00918F" stroke-width="2.6"/>
<circle cx="361.97" cy="2184.4" r="5.6" fill="#00918F"/>
<circle cx="350.98" cy="2238.5" r="5.6" fill="#00918F"/>
<circle cx="373.35" cy="2230.77" r="5.6" fill="#00918F"/>
<rect x="394.36" y="2282.01" width="37.4" height="121.99" fill="#00918F"/>
<rect x="401.36" y="2289.01" width="23.4" height="114.99" fill="#83C7C9"/>
<line x1="412.76" y1="2272.66" x2="412.76" y2="2284.01" stroke="#00918F" stroke-width="2.6"/>
<line x1="403.26" y1="2272.66" x2="422.26" y2="2272.66" stroke="#00918F" stroke-width="2.6"/>
<circle cx="400.6" cy="2269" r="5.6" fill="#00918F"/>
<circle cx="425" cy="2278.35" r="5.6" fill="#00918F"/>
<circle cx="412.8" cy="2304.79" r="5.6" fill="#00918F"/>
<rect x="445.2" y="2284.05" width="37.4" height="119.95" fill="#00918F"/>
<rect x="452.2" y="2291.05" width="23.4" height="112.95" fill="#83C7C9"/>
<line x1="463.6" y1="2249.48" x2="463.6" y2="2286.05" stroke="#00918F" stroke-width="2.6"/>
<line x1="454.1" y1="2249.48" x2="473.1" y2="2249.48" stroke="#00918F" stroke-width="2.6"/>
<circle cx="463.64" cy="2215.31" r="5.6" fill="#00918F"/>
<circle cx="463.64" cy="2306.01" r="5.6" fill="#00918F"/>
<circle cx="463.64" cy="2335.29" r="5.6" fill="#00918F"/>
<rect x="496.04" y="2227.11" width="37.4" height="176.89" fill="#00918F"/>
<rect x="503.04" y="2234.11" width="23.4" height="169.89" fill="#83C7C9"/>
<line x1="514.44" y1="2223.04" x2="514.44" y2="2229.11" stroke="#00918F" stroke-width="2.6"/>
<line x1="504.94" y1="2223.04" x2="523.94" y2="2223.04" stroke="#00918F" stroke-width="2.6"/>
<circle cx="503.09" cy="2222.23" r="5.6" fill="#00918F"/>
<circle cx="526.68" cy="2223.85" r="5.6" fill="#00918F"/>
<circle cx="514.48" cy="2242.16" r="5.6" fill="#00918F"/>
<rect x="546.88" y="2273.06" width="37.4" height="130.94" fill="#00918F"/>
<rect x="553.88" y="2280.06" width="23.4" height="123.94" fill="#83C7C9"/>
<line x1="565.28" y1="2259.64" x2="565.28" y2="2275.06" stroke="#00918F" stroke-width="2.6"/>
<line x1="555.78" y1="2259.64" x2="574.78" y2="2259.64" stroke="#00918F" stroke-width="2.6"/>
<circle cx="565.32" cy="2254.36" r="5.6" fill="#00918F"/>
<circle cx="565.32" cy="2266.56" r="5.6" fill="#00918F"/>
<circle cx="565.32" cy="2304.38" r="5.6" fill="#00918F"/>
<rect x="597.72" y="2229.95" width="37.4" height="174.05" fill="#00918F"/>
<rect x="604.72" y="2236.95" width="23.4" height="167.05" fill="#83C7C9"/>
<line x1="616.12" y1="2206.77" x2="616.12" y2="2231.95" stroke="#00918F" stroke-width="2.6"/>
<line x1="606.62" y1="2206.77" x2="625.62" y2="2206.77" stroke="#00918F" stroke-width="2.6"/>
<circle cx="616.15" cy="2182.37" r="5.6" fill="#00918F"/>
<circle cx="605.17" cy="2260.05" r="5.6" fill="#00918F"/>
<circle cx="627.54" cy="2252.73" r="5.6" fill="#00918F"/>
<line x1="176.2" y1="2153.3" x2="176.2" y2="2406.3" stroke="#000" stroke-width="4.6"/>
<line x1="164.5" y1="2404" x2="650" y2="2404" stroke="#000" stroke-width="4.6"/>
<line x1="164.5" y1="2341.9" x2="176.2" y2="2341.9" stroke="#000" stroke-width="4.6"/>
<line x1="164.5" y1="2279.8" x2="176.2" y2="2279.8" stroke="#000" stroke-width="4.6"/>
<line x1="164.5" y1="2217.7" x2="176.2" y2="2217.7" stroke="#000" stroke-width="4.6"/>
<line x1="164.5" y1="2155.6" x2="176.2" y2="2155.6" stroke="#000" stroke-width="4.6"/>
<line x1="209.4" y1="2404" x2="209.4" y2="2416" stroke="#000" stroke-width="4.6"/>
<line x1="260.24" y1="2404" x2="260.24" y2="2416" stroke="#000" stroke-width="4.6"/>
<line x1="311.08" y1="2404" x2="311.08" y2="2416" stroke="#000" stroke-width="4.6"/>
<line x1="361.92" y1="2404" x2="361.92" y2="2416" stroke="#000" stroke-width="4.6"/>
<line x1="412.76" y1="2404" x2="412.76" y2="2416" stroke="#000" stroke-width="4.6"/>
<line x1="463.6" y1="2404" x2="463.6" y2="2416" stroke="#000" stroke-width="4.6"/>
<line x1="514.44" y1="2404" x2="514.44" y2="2416" stroke="#000" stroke-width="4.6"/>
<line x1="565.28" y1="2404" x2="565.28" y2="2416" stroke="#000" stroke-width="4.6"/>
<line x1="616.12" y1="2404" x2="616.12" y2="2416" stroke="#000" stroke-width="4.6"/>
<text transform="translate(150.5 2411.9) scale(0.94 1)" font-size="31.5" text-anchor="end">0</text>
<text transform="translate(153 2349.8) scale(0.94 1)" font-size="31.5" text-anchor="end">20</text>
<text transform="translate(153 2287.7) scale(0.94 1)" font-size="31.5" text-anchor="end">40</text>
<text transform="translate(153 2225.6) scale(0.94 1)" font-size="31.5" text-anchor="end">60</text>
<text transform="translate(153 2163.5) scale(0.94 1)" font-size="31.5" text-anchor="end">80</text>
<text transform="translate(198.8 2465.4) rotate(-45)" font-size="29.5" text-anchor="middle">A4V</text>
<text transform="translate(249.64 2465.4) rotate(-45)" font-size="29.5" text-anchor="middle">G93A</text>
<text transform="translate(300.48 2465.4) rotate(-45)" font-size="29.5" text-anchor="middle">G85R</text>
<text transform="translate(351.32 2465.4) rotate(-45)" font-size="29.5" text-anchor="middle">D90A</text>
<text transform="translate(402.16 2465.4) rotate(-45)" font-size="29.5" text-anchor="middle">V148G</text>
<text transform="translate(453 2465.4) rotate(-45)" font-size="29.5" text-anchor="middle">H46R</text>
<text transform="translate(503.84 2465.4) rotate(-45)" font-size="29.5" text-anchor="middle">G37R</text>
<text transform="translate(554.68 2465.4) rotate(-45)" font-size="29.5" text-anchor="middle">C6G</text>
<text transform="translate(605.52 2465.4) rotate(-45)" font-size="29.5" text-anchor="middle">E100G</text>
<line x1="217.6" y1="2162.8" x2="619.5" y2="2162.8" stroke="#231F20" stroke-width="3.1"/>
<text x="448.6" y="2153" font-size="27" text-anchor="middle" letter-spacing="0.5">***</text>
<!-- Panel J -->
<rect x="889" y="2098.5" width="40.5" height="16.5" fill="#BCBCBC" stroke="#8E8E8E" stroke-width="3"/>
<rect x="889.5" y="2129.5" width="40.5" height="16.5" fill="#86C0CF" stroke="#9A9A9A" stroke-width="3"/>
<text x="944.5" y="2114.3" font-size="29.3">Untransfected</text>
<text x="946" y="2150" font-size="29.3">BP2</text>
<rect x="887.5" y="2321.94" width="38.28" height="90.26" fill="#5E5E5E"/>
<rect x="895" y="2329.44" width="23.28" height="82.76" fill="#BBBDBF"/>
<rect x="931.16" y="2324.93" width="38.88" height="87.27" fill="#3F5F66"/>
<rect x="938.66" y="2332.43" width="23.88" height="79.77" fill="#86BFCC"/>
<rect x="1002.03" y="2184.98" width="38.88" height="227.22" fill="#5E5E5E"/>
<rect x="1009.53" y="2192.48" width="23.88" height="219.72" fill="#BBBDBF"/>
<rect x="1046.29" y="2219.96" width="38.58" height="192.24" fill="#3F5F66"/>
<rect x="1053.79" y="2227.46" width="23.58" height="184.74" fill="#86BFCC"/>
<circle cx="894.98" cy="2325.53" r="5" fill="#000"/>
<circle cx="906.34" cy="2322.54" r="5" fill="#000"/>
<circle cx="917.7" cy="2324.03" r="5" fill="#000"/>
<circle cx="945.22" cy="2317.45" r="5" fill="#000"/>
<circle cx="956.58" cy="2321.94" r="5" fill="#000"/>
<circle cx="950.6" cy="2339.88" r="5" fill="#000"/>
<line x1="950.6" y1="2318.95" x2="950.6" y2="2333.9" stroke="#000" stroke-width="1.8"/>
<line x1="941.6" y1="2333.3" x2="959.6" y2="2333.3" stroke="#000" stroke-width="1.8"/>
<circle cx="1015.49" cy="2181.99" r="5" fill="#000"/>
<circle cx="1027.45" cy="2184.98" r="5" fill="#000"/>
<circle cx="1021.47" cy="2193.95" r="5" fill="#000"/>
<line x1="1011.47" y1="2189.76" x2="1031.47" y2="2189.76" stroke="#000" stroke-width="1.8"/>
<circle cx="1065.43" cy="2206.51" r="5.2" fill="#000"/>
<circle cx="1065.43" cy="2219.67" r="5.2" fill="#000"/>
<circle cx="1065.43" cy="2239.7" r="5.2" fill="#000"/>
<line x1="1065.43" y1="2211.29" x2="1065.43" y2="2231.63" stroke="#000" stroke-width="1.8"/>
<line x1="1055.43" y1="2211.29" x2="1075.43" y2="2211.29" stroke="#000" stroke-width="1.8"/>
<line x1="1055.43" y1="2231.63" x2="1075.43" y2="2231.63" stroke="#000" stroke-width="1.8"/>
<line x1="871" y1="2152.5" x2="871" y2="2414.7" stroke="#000" stroke-width="2.2"/>
<line x1="858.5" y1="2412.2" x2="1104" y2="2412.2" stroke="#000" stroke-width="2.2"/>
<text x="849" y="2422.7" font-size="29.3" text-anchor="end">0</text>
<line x1="858.5" y1="2360.48" x2="871" y2="2360.48" stroke="#000" stroke-width="2.2"/>
<text x="849" y="2370.98" font-size="29.3" text-anchor="end">500</text>
<line x1="858.5" y1="2308.76" x2="871" y2="2308.76" stroke="#000" stroke-width="2.2"/>
<text x="849" y="2319.26" font-size="29.3" text-anchor="end">1000</text>
<line x1="858.5" y1="2257.04" x2="871" y2="2257.04" stroke="#000" stroke-width="2.2"/>
<text x="849" y="2267.54" font-size="29.3" text-anchor="end">1500</text>
<line x1="858.5" y1="2205.32" x2="871" y2="2205.32" stroke="#000" stroke-width="2.2"/>
<text x="849" y="2215.82" font-size="29.3" text-anchor="end">2000</text>
<line x1="858.5" y1="2153.6" x2="871" y2="2153.6" stroke="#000" stroke-width="2.2"/>
<text x="849" y="2164.1" font-size="29.3" text-anchor="end">2500</text>
<text x="925.5" y="2446.5" font-size="29.3" text-anchor="middle">24 h</text>
<text x="1048" y="2446.5" font-size="29.3" text-anchor="middle">48 h</text>
<text transform="translate(774.5 2265) rotate(-90)" font-size="29.3" text-anchor="middle">Cell Counts</text>
<!-- Panel K -->
<text x="1355" y="1619" font-size="29.4" text-anchor="middle" fill="#1a1a1a">IP: 6 x His</text>
<text x="1676" y="1619" font-size="29.4" text-anchor="middle" fill="#1a1a1a">Input</text>
<line x1="1210" y1="1635.8" x2="1489" y2="1635.8" stroke="#231F20" stroke-width="3"/>
<line x1="1539" y1="1635.8" x2="1818" y2="1635.8" stroke="#231F20" stroke-width="3"/>
<text x="1194.5" y="1692.5" font-size="29.4" text-anchor="end" fill="#1a1a1a">Control</text>
<text x="1194.5" y="1738.5" font-size="29.4" text-anchor="end" fill="#1a1a1a">BP2</text>
<text x="1194.5" y="1784" font-size="28.6" text-anchor="end" fill="#1a1a1a">SOD1<tspan font-size="60%" dy="-0.6em" dx="0.16em">A4V</tspan></text>
<text x="1194.5" y="1830" font-size="28.6" text-anchor="end" fill="#1a1a1a">SOD1<tspan font-size="60%" dy="-0.6em" dx="0.16em">WT</tspan></text>
<text x="1258.5" y="1698.9" font-size="41" text-anchor="middle" fill="#1a1a1a" stroke="#fff" stroke-width="0.7">+</text>
<text x="1577.5" y="1697.4" font-size="41" text-anchor="middle" fill="#1a1a1a" stroke="#fff" stroke-width="0.7">+</text>
<text x="1292" y="1697.3" font-size="41" text-anchor="middle" fill="#1a1a1a" stroke="#fff" stroke-width="0.7">-</text>
<text x="1617.5" y="1695.8" font-size="41" text-anchor="middle" fill="#1a1a1a" stroke="#fff" stroke-width="0.7">-</text>
<text x="1334.5" y="1694.3" font-size="41" text-anchor="middle" fill="#1a1a1a" stroke="#fff" stroke-width="0.7">-</text>
<text x="1660" y="1692.8" font-size="41" text-anchor="middle" fill="#1a1a1a" stroke="#fff" stroke-width="0.7">-</text>
<text x="1367" y="1694.3" font-size="41" text-anchor="middle" fill="#1a1a1a" stroke="#fff" stroke-width="0.7">-</text>
<text x="1694" y="1692.8" font-size="41" text-anchor="middle" fill="#1a1a1a" stroke="#fff" stroke-width="0.7">-</text>
<text x="1400.5" y="1696.9" font-size="41" text-anchor="middle" fill="#1a1a1a" stroke="#fff" stroke-width="0.7">+</text>
<text x="1728.5" y="1695.4" font-size="41" text-anchor="middle" fill="#1a1a1a" stroke="#fff" stroke-width="0.7">+</text>
<text x="1441" y="1694.3" font-size="41" text-anchor="middle" fill="#1a1a1a" stroke="#fff" stroke-width="0.7">-</text>
<text x="1766.5" y="1692.8" font-size="41" text-anchor="middle" fill="#1a1a1a" stroke="#fff" stroke-width="0.7">-</text>
<text x="1477" y="1694.3" font-size="41" text-anchor="middle" fill="#1a1a1a" stroke="#fff" stroke-width="0.7">-</text>
<text x="1809" y="1692.8" font-size="41" text-anchor="middle" fill="#1a1a1a" stroke="#fff" stroke-width="0.7">-</text>
<text x="1258.5" y="1742.8" font-size="41" text-anchor="middle" fill="#1a1a1a" stroke="#fff" stroke-width="0.7">-</text>
<text x="1577.5" y="1741.3" font-size="41" text-anchor="middle" fill="#1a1a1a" stroke="#fff" stroke-width="0.7">-</text>
<text x="1292" y="1744.4" font-size="41" text-anchor="middle" fill="#1a1a1a" stroke="#fff" stroke-width="0.7">+</text>
<text x="1617.5" y="1742.9" font-size="41" text-anchor="middle" fill="#1a1a1a" stroke="#fff" stroke-width="0.7">+</text>
<text x="1334.5" y="1739.8" font-size="41" text-anchor="middle" fill="#1a1a1a" stroke="#fff" stroke-width="0.7">-</text>
<text x="1660" y="1738.3" font-size="41" text-anchor="middle" fill="#1a1a1a" stroke="#fff" stroke-width="0.7">-</text>
<text x="1367" y="1739.8" font-size="41" text-anchor="middle" fill="#1a1a1a" stroke="#fff" stroke-width="0.7">-</text>
<text x="1694" y="1738.3" font-size="41" text-anchor="middle" fill="#1a1a1a" stroke="#fff" stroke-width="0.7">-</text>
<text x="1400.5" y="1739.8" font-size="41" text-anchor="middle" fill="#1a1a1a" stroke="#fff" stroke-width="0.7">-</text>
<text x="1728.5" y="1738.3" font-size="41" text-anchor="middle" fill="#1a1a1a" stroke="#fff" stroke-width="0.7">-</text>
<text x="1441" y="1742.4" font-size="41" text-anchor="middle" fill="#1a1a1a" stroke="#fff" stroke-width="0.7">+</text>
<text x="1766.5" y="1740.9" font-size="41" text-anchor="middle" fill="#1a1a1a" stroke="#fff" stroke-width="0.7">+</text>
<text x="1477" y="1742.4" font-size="41" text-anchor="middle" fill="#1a1a1a" stroke="#fff" stroke-width="0.7">+</text>
<text x="1809" y="1740.9" font-size="41" text-anchor="middle" fill="#1a1a1a" stroke="#fff" stroke-width="0.7">+</text>
<text x="1258.5" y="1789.8" font-size="41" text-anchor="middle" fill="#1a1a1a" stroke="#fff" stroke-width="0.7">-</text>
<text x="1577.5" y="1788.3" font-size="41" text-anchor="middle" fill="#1a1a1a" stroke="#fff" stroke-width="0.7">-</text>
<text x="1292" y="1789.8" font-size="41" text-anchor="middle" fill="#1a1a1a" stroke="#fff" stroke-width="0.7">-</text>
<text x="1617.5" y="1788.3" font-size="41" text-anchor="middle" fill="#1a1a1a" stroke="#fff" stroke-width="0.7">-</text>
<text x="1334.5" y="1789.4" font-size="41" text-anchor="middle" fill="#1a1a1a" stroke="#fff" stroke-width="0.7">+</text>
<text x="1660" y="1787.9" font-size="41" text-anchor="middle" fill="#1a1a1a" stroke="#fff" stroke-width="0.7">+</text>
<text x="1367" y="1786.8" font-size="41" text-anchor="middle" fill="#1a1a1a" stroke="#fff" stroke-width="0.7">-</text>
<text x="1694" y="1785.3" font-size="41" text-anchor="middle" fill="#1a1a1a" stroke="#fff" stroke-width="0.7">-</text>
<text x="1400.5" y="1789.4" font-size="41" text-anchor="middle" fill="#1a1a1a" stroke="#fff" stroke-width="0.7">+</text>
<text x="1728.5" y="1787.9" font-size="41" text-anchor="middle" fill="#1a1a1a" stroke="#fff" stroke-width="0.7">+</text>
<text x="1441" y="1789.4" font-size="41" text-anchor="middle" fill="#1a1a1a" stroke="#fff" stroke-width="0.7">+</text>
<text x="1766.5" y="1787.9" font-size="41" text-anchor="middle" fill="#1a1a1a" stroke="#fff" stroke-width="0.7">+</text>
<text x="1477" y="1786.8" font-size="41" text-anchor="middle" fill="#1a1a1a" stroke="#fff" stroke-width="0.7">-</text>
<text x="1809" y="1785.3" font-size="41" text-anchor="middle" fill="#1a1a1a" stroke="#fff" stroke-width="0.7">-</text>
<text x="1258.5" y="1836.3" font-size="41" text-anchor="middle" fill="#1a1a1a" stroke="#fff" stroke-width="0.7">-</text>
<text x="1577.5" y="1834.8" font-size="41" text-anchor="middle" fill="#1a1a1a" stroke="#fff" stroke-width="0.7">-</text>
<text x="1292" y="1836.3" font-size="41" text-anchor="middle" fill="#1a1a1a" stroke="#fff" stroke-width="0.7">-</text>
<text x="1617.5" y="1834.8" font-size="41" text-anchor="middle" fill="#1a1a1a" stroke="#fff" stroke-width="0.7">-</text>
<text x="1334.5" y="1833.3" font-size="41" text-anchor="middle" fill="#1a1a1a" stroke="#fff" stroke-width="0.7">-</text>
<text x="1660" y="1831.8" font-size="41" text-anchor="middle" fill="#1a1a1a" stroke="#fff" stroke-width="0.7">-</text>
<text x="1367" y="1835.9" font-size="41" text-anchor="middle" fill="#1a1a1a" stroke="#fff" stroke-width="0.7">+</text>
<text x="1694" y="1834.4" font-size="41" text-anchor="middle" fill="#1a1a1a" stroke="#fff" stroke-width="0.7">+</text>
<text x="1400.5" y="1833.3" font-size="41" text-anchor="middle" fill="#1a1a1a" stroke="#fff" stroke-width="0.7">-</text>
<text x="1728.5" y="1831.8" font-size="41" text-anchor="middle" fill="#1a1a1a" stroke="#fff" stroke-width="0.7">-</text>
<text x="1441" y="1833.3" font-size="41" text-anchor="middle" fill="#1a1a1a" stroke="#fff" stroke-width="0.7">-</text>
<text x="1766.5" y="1831.8" font-size="41" text-anchor="middle" fill="#1a1a1a" stroke="#fff" stroke-width="0.7">-</text>
<text x="1477" y="1835.9" font-size="41" text-anchor="middle" fill="#1a1a1a" stroke="#fff" stroke-width="0.7">+</text>
<text x="1809" y="1834.4" font-size="41" text-anchor="middle" fill="#1a1a1a" stroke="#fff" stroke-width="0.7">+</text>
<text x="1215.5" y="1872.5" font-size="29.4" text-anchor="end" fill="#1a1a1a">kDa</text>
<text x="1216.5" y="1914" font-size="29.4" text-anchor="end" fill="#1a1a1a">50</text>
<text x="1216.5" y="2034" font-size="29.4" text-anchor="end" fill="#1a1a1a">50</text>
<text x="1837.5" y="1892.5" font-size="29.4" fill="#1a1a1a">IB:</text>
<text x="1837.5" y="1927.5" font-size="29.4" fill="#1a1a1a">FLAG</text>
<text x="1837.5" y="2002.5" font-size="29.4" fill="#1a1a1a">IB:</text>
<text x="1837.5" y="2037.5" font-size="29.4" fill="#1a1a1a">SOD1</text>
<clipPath id="cpK1"><rect x="1226.1" y="1850.7" width="284.4" height="99.5"/></clipPath>
<rect x="1226.1" y="1850.7" width="284.4" height="99.5" fill="#EBEBEB"/>
<g clip-path="url(#cpK1)">
<rect x="1228" y="1853" width="4" height="95" fill="#fff"/>
<rect x="1503" y="1853" width="5" height="95" fill="#fff"/>
<rect x="1243.3" y="1894.35" width="27.56" height="9.95" rx="4.98" ry="4.98" fill="#000" filter="url(#b2)" opacity="0.9"/>
<rect x="1279.67" y="1893.59" width="30.62" height="10.72" rx="5.36" ry="5.36" fill="#000" filter="url(#b2)" opacity="0.95"/>
<rect x="1389.14" y="1892.06" width="26.79" height="10.72" rx="5.36" ry="5.36" fill="#000" filter="url(#b2)"/>
<rect x="1423.59" y="1889.76" width="28.33" height="13.01" rx="6.51" ry="6.51" fill="#000" filter="url(#b2)"/>
<rect x="1458.8" y="1890.14" width="28.33" height="11.48" rx="5.74" ry="5.74" fill="#000" filter="url(#b2)"/>
</g>
<rect x="1227.75" y="1852.35" width="281.1" height="96.2" fill="none" stroke="#231F20" stroke-width="3.3"/>
<clipPath id="cpK2"><rect x="1226.1" y="1963.3" width="287.1" height="89.1"/></clipPath>
<rect x="1226.1" y="1963.3" width="287.1" height="89.1" fill="#EDEDED"/>
<g clip-path="url(#cpK2)">
<rect x="1224" y="1965" width="4.5" height="88" fill="#fff"/>
<rect x="1505" y="1965" width="6" height="88" fill="#fff"/>
<rect x="1415.93" y="2016.08" width="33.68" height="13.01" rx="6.51" ry="6.51" fill="#000" filter="url(#b2)"/>
<rect x="1459.95" y="2016.08" width="26.79" height="5.36" rx="2.68" ry="2.68" fill="#000" filter="url(#b3)" opacity="0.3"/>
</g>
<rect x="1227.75" y="1964.95" width="283.8" height="85.8" fill="none" stroke="#231F20" stroke-width="3.3"/>
<clipPath id="cpK3"><rect x="1537.3" y="1850.7" width="295.5" height="99.5"/></clipPath>
<rect x="1537.3" y="1850.7" width="295.5" height="99.5" fill="#EDEDED"/>
<g clip-path="url(#cpK3)">
<rect x="1566.36" y="1894.74" width="26.03" height="13.01" rx="6.51" ry="6.51" fill="#000" filter="url(#b2)"/>
<rect x="1600.81" y="1894.35" width="31.39" height="12.25" rx="6.12" ry="6.12" fill="#000" filter="url(#b2)"/>
<rect x="1716.03" y="1892.44" width="29.09" height="12.25" rx="6.12" ry="6.12" fill="#000" filter="url(#b2)"/>
<rect x="1750.86" y="1892.06" width="32.15" height="13.01" rx="6.51" ry="6.51" fill="#000" filter="url(#b2)"/>
<rect x="1792.2" y="1894.35" width="27.56" height="8.42" rx="4.21" ry="4.21" fill="#000" filter="url(#b3)" opacity="0.7"/>
</g>
<rect x="1538.95" y="1852.35" width="292.2" height="96.2" fill="none" stroke="#231F20" stroke-width="3.3"/>
<clipPath id="cpK4"><rect x="1537.3" y="1963.3" width="295.5" height="89.1"/></clipPath>
<rect x="1537.3" y="1963.3" width="295.5" height="89.1" fill="#DEDEDE"/>
<g clip-path="url(#cpK4)">
<rect x="1653.25" y="2009.57" width="28.33" height="9.19" rx="4.59" ry="4.59" fill="#000" filter="url(#b2)"/>
<rect x="1686.56" y="2010.53" width="28.33" height="8.04" rx="4.02" ry="4.02" fill="#000" filter="url(#b2)" opacity="0.92"/>
<rect x="1721" y="2011.29" width="26.79" height="7.27" rx="3.64" ry="3.64" fill="#000" filter="url(#b2)" opacity="0.8"/>
<rect x="1755.45" y="2012.06" width="24.5" height="6.51" rx="3.25" ry="3.25" fill="#000" filter="url(#b2)" opacity="0.72"/>
<rect x="1789.9" y="2010.72" width="30.62" height="9.19" rx="4.59" ry="4.59" fill="#000" filter="url(#b2)"/>
</g>
<rect x="1538.95" y="1964.95" width="292.2" height="85.8" fill="none" stroke="#231F20" stroke-width="3.3"/>
<rect x="1346.2" y="2164" width="49.2" height="249.6" fill="#000"/>
<rect x="1353.2" y="2171" width="35.2" height="242.6" fill="url(#dots)"/>
<rect x="1418.3" y="2372" width="48.3" height="41.6" fill="#000"/>
<circle cx="1421.8" cy="2414.1" r="3.4" fill="#000"/>
<circle cx="1463.1" cy="2414.1" r="3.4" fill="#000"/>
<rect x="1425.3" y="2379" width="34.3" height="34.6" fill="#5A5A5A"/>
<line x1="1370.8" y1="2159" x2="1370.8" y2="2164" stroke="#000" stroke-width="2"/>
<line x1="1363" y1="2159.5" x2="1384" y2="2159.5" stroke="#000" stroke-width="2"/>
<circle cx="1362" cy="2156.5" r="4.6" fill="#000"/>
<circle cx="1361.5" cy="2171.5" r="4.6" fill="#000"/>
<circle cx="1380" cy="2166" r="4.6" fill="#000"/>
<line x1="1442.4" y1="2365.5" x2="1442.4" y2="2372" stroke="#000" stroke-width="2"/>
<line x1="1430" y1="2365.5" x2="1455" y2="2365.5" stroke="#000" stroke-width="2"/>
<circle cx="1442.3" cy="2359.3" r="4.6" fill="#000"/>
<circle cx="1434.5" cy="2381.5" r="4.6" fill="#000"/>
<circle cx="1451" cy="2376.5" r="4.6" fill="#000"/>
<line x1="1323.2" y1="2132.6" x2="1323.2" y2="2415" stroke="#000" stroke-width="2.8"/>
<line x1="1306.5" y1="2413.6" x2="1492.5" y2="2413.6" stroke="#000" stroke-width="2.8"/>
<text transform="translate(1298.3 2427.2) scale(0.81 1)" font-size="31.5" text-anchor="end">0</text>
<line x1="1306.5" y1="2343.7" x2="1323.2" y2="2343.7" stroke="#000" stroke-width="2.8"/>
<text transform="translate(1298.3 2357.3) scale(0.81 1)" font-size="31.5" text-anchor="end">5</text>
<line x1="1306.5" y1="2273.8" x2="1323.2" y2="2273.8" stroke="#000" stroke-width="2.8"/>
<text transform="translate(1298.3 2287.4) scale(0.81 1)" font-size="31.5" text-anchor="end">10</text>
<line x1="1306.5" y1="2203.9" x2="1323.2" y2="2203.9" stroke="#000" stroke-width="2.8"/>
<text transform="translate(1298.3 2217.5) scale(0.81 1)" font-size="31.5" text-anchor="end">15</text>
<line x1="1306.5" y1="2134" x2="1323.2" y2="2134" stroke="#000" stroke-width="2.8"/>
<text transform="translate(1298.3 2147.6) scale(0.81 1)" font-size="31.5" text-anchor="end">20</text>
<line x1="1370.8" y1="2413.6" x2="1370.8" y2="2432.5" stroke="#000" stroke-width="2.8"/>
<line x1="1442.4" y1="2413.6" x2="1442.4" y2="2432.5" stroke="#000" stroke-width="2.8"/>
<path d="M1371 2130 V2101 H1442.3 V2332.5" fill="none" stroke="#000" stroke-width="3.6" stroke-linecap="round" stroke-linejoin="miter"/>
<text x="1408.7" y="2096.6" font-size="26" text-anchor="middle">****</text>
<text transform="translate(1236.5 2279.5) rotate(-90)" font-size="29.3" text-anchor="middle" fill="#1a1a1a">Relative SOD1 levels</text>
<text transform="translate(1270.5 2277) rotate(-90)" font-size="29.3" text-anchor="middle" fill="#1a1a1a">(arb. units)</text>
<text transform="translate(1380 2456) rotate(-46.8)" font-size="28.5" text-anchor="end" fill="#1a1a1a">SOD1<tspan font-size="55%" dy="-0.65em">A4V</tspan></text>
<text transform="translate(1458 2456) rotate(-46.8)" font-size="28.5" text-anchor="end" fill="#1a1a1a">SOD1<tspan font-size="55%" dy="-0.65em">WT</tspan></text>
<clipPath id="cpTP"><rect x="1536.2" y="2074.8" width="296.6" height="338.1"/></clipPath>
<rect x="1536.2" y="2074.8" width="296.6" height="338.1" fill="#fff"/>
<g clip-path="url(#cpTP)">
<rect x="1538" y="2082.5" width="293" height="330" fill="#E3E3E3"/>
<g filter="url(#b7)">
<rect x="1556.91" y="2083" width="30.79" height="330" fill="#D3D3D3"/>
<rect x="1594.41" y="2083" width="30.79" height="330" fill="#D3D3D3"/>
<rect x="1633.88" y="2083" width="30.79" height="330" fill="#D3D3D3"/>
<rect x="1673.35" y="2083" width="30.79" height="330" fill="#D3D3D3"/>
<rect x="1712.83" y="2083" width="30.79" height="330" fill="#D3D3D3"/>
<rect x="1751.31" y="2083" width="30.79" height="330" fill="#D3D3D3"/>
<rect x="1790.79" y="2083" width="30.79" height="330" fill="#D3D3D3"/>
</g>
<rect x="1557.5" y="2086.64" width="29.61" height="29.61" fill="#000" opacity="0.05" filter="url(#b8)"/>
<rect x="1595" y="2086.64" width="29.61" height="29.61" fill="#000" opacity="0.05" filter="url(#b8)"/>
<rect x="1634.47" y="2086.64" width="29.61" height="29.61" fill="#000" opacity="0.05" filter="url(#b8)"/>
<rect x="1673.95" y="2086.64" width="29.61" height="29.61" fill="#000" opacity="0.05" filter="url(#b8)"/>
<rect x="1713.42" y="2086.64" width="29.61" height="29.61" fill="#000" opacity="0.05" filter="url(#b8)"/>
<rect x="1751.91" y="2086.64" width="29.61" height="29.61" fill="#000" opacity="0.05" filter="url(#b8)"/>
<rect x="1791.38" y="2086.64" width="29.61" height="29.61" fill="#000" opacity="0.05" filter="url(#b8)"/>
<rect x="1557.5" y="2121.18" width="29.61" height="7.89" fill="#000" opacity="0.05" filter="url(#b8)"/>
<rect x="1557.5" y="2130.56" width="29.61" height="10.86" fill="#000" opacity="0.1" filter="url(#b8)"/>
<rect x="1595" y="2131.15" width="29.61" height="10.86" fill="#000" opacity="0.1" filter="url(#b8)"/>
<rect x="1634.47" y="2131.74" width="29.61" height="10.86" fill="#000" opacity="0.1" filter="url(#b8)"/>
<rect x="1673.95" y="2132.34" width="29.61" height="10.86" fill="#000" opacity="0.1" filter="url(#b8)"/>
<rect x="1713.42" y="2132.93" width="29.61" height="10.86" fill="#000" opacity="0.1" filter="url(#b8)"/>
<rect x="1751.91" y="2133.52" width="29.61" height="10.86" fill="#000" opacity="0.1" filter="url(#b8)"/>
<rect x="1791.38" y="2134.11" width="29.61" height="10.86" fill="#000" opacity="0.1" filter="url(#b8)"/>
<rect x="1557.5" y="2141.32" width="29.61" height="7.11" fill="#000" opacity="0.07" filter="url(#b8)"/>
<rect x="1634.47" y="2142.5" width="29.61" height="7.11" fill="#000" opacity="0.07" filter="url(#b8)"/>
<rect x="1673.95" y="2143.09" width="29.61" height="7.11" fill="#000" opacity="0.07" filter="url(#b8)"/>
<rect x="1557.5" y="2161.05" width="29.61" height="7.11" fill="#000" opacity="0.06" filter="url(#b8)"/>
<rect x="1595" y="2161.64" width="29.61" height="7.11" fill="#000" opacity="0.06" filter="url(#b8)"/>
<rect x="1634.47" y="2162.24" width="29.61" height="7.11" fill="#000" opacity="0.06" filter="url(#b8)"/>
<rect x="1673.95" y="2162.83" width="29.61" height="7.11" fill="#000" opacity="0.06" filter="url(#b8)"/>
<rect x="1713.42" y="2163.42" width="29.61" height="7.11" fill="#000" opacity="0.06" filter="url(#b8)"/>
<rect x="1751.91" y="2164.01" width="29.61" height="7.11" fill="#000" opacity="0.06" filter="url(#b8)"/>
<rect x="1791.38" y="2164.6" width="29.61" height="7.11" fill="#000" opacity="0.06" filter="url(#b8)"/>
<rect x="1557.5" y="2186.31" width="29.61" height="7.89" fill="#000" opacity="0.03" filter="url(#b8)"/>
<rect x="1595" y="2187.3" width="29.61" height="7.89" fill="#000" opacity="0.03" filter="url(#b8)"/>
<rect x="1634.47" y="2188.29" width="29.61" height="7.89" fill="#000" opacity="0.03" filter="url(#b8)"/>
<rect x="1673.95" y="2189.28" width="29.61" height="7.89" fill="#000" opacity="0.03" filter="url(#b8)"/>
<rect x="1713.42" y="2190.26" width="29.61" height="7.89" fill="#000" opacity="0.03" filter="url(#b8)"/>
<rect x="1751.91" y="2191.25" width="29.61" height="7.89" fill="#000" opacity="0.03" filter="url(#b8)"/>
<rect x="1791.38" y="2192.24" width="29.61" height="7.89" fill="#000" opacity="0.03" filter="url(#b8)"/>
<rect x="1557.5" y="2200.13" width="29.61" height="15.79" fill="#000" opacity="0.09" filter="url(#b8)"/>
<rect x="1595" y="2201.31" width="29.61" height="15.79" fill="#000" opacity="0.09" filter="url(#b8)"/>
<rect x="1634.47" y="2202.5" width="29.61" height="15.79" fill="#000" opacity="0.09" filter="url(#b8)"/>
<rect x="1673.95" y="2203.68" width="29.61" height="15.79" fill="#000" opacity="0.09" filter="url(#b8)"/>
<rect x="1713.42" y="2204.87" width="29.61" height="15.79" fill="#000" opacity="0.09" filter="url(#b8)"/>
<rect x="1751.91" y="2206.05" width="29.61" height="15.79" fill="#000" opacity="0.09" filter="url(#b8)"/>
<rect x="1791.38" y="2207.24" width="29.61" height="15.79" fill="#000" opacity="0.09" filter="url(#b8)"/>
<rect x="1557.5" y="2203.09" width="29.61" height="7.89" fill="#000" opacity="0.05" filter="url(#b8)"/>
<rect x="1751.91" y="2209.01" width="29.61" height="7.89" fill="#000" opacity="0.05" filter="url(#b8)"/>
<rect x="1557.5" y="2230.33" width="29.61" height="6.71" fill="#000" opacity="0.1" filter="url(#b8)"/>
<rect x="1595" y="2231.51" width="29.61" height="6.71" fill="#000" opacity="0.1" filter="url(#b8)"/>
<rect x="1634.47" y="2232.7" width="29.61" height="6.71" fill="#000" opacity="0.1" filter="url(#b8)"/>
<rect x="1673.95" y="2233.88" width="29.61" height="6.71" fill="#000" opacity="0.1" filter="url(#b8)"/>
<rect x="1713.42" y="2235.06" width="29.61" height="6.71" fill="#000" opacity="0.1" filter="url(#b8)"/>
<rect x="1751.91" y="2236.25" width="29.61" height="6.71" fill="#000" opacity="0.1" filter="url(#b8)"/>
<rect x="1791.38" y="2237.43" width="29.61" height="6.71" fill="#000" opacity="0.1" filter="url(#b8)"/>
<rect x="1557.5" y="2240" width="29.61" height="5.13" fill="#000" opacity="0.08" filter="url(#b8)"/>
<rect x="1595" y="2241.18" width="29.61" height="5.13" fill="#000" opacity="0.08" filter="url(#b8)"/>
<rect x="1634.47" y="2242.37" width="29.61" height="5.13" fill="#000" opacity="0.08" filter="url(#b8)"/>
<rect x="1673.95" y="2243.55" width="29.61" height="5.13" fill="#000" opacity="0.08" filter="url(#b8)"/>
<rect x="1713.42" y="2244.74" width="29.61" height="5.13" fill="#000" opacity="0.08" filter="url(#b8)"/>
<rect x="1751.91" y="2245.92" width="29.61" height="5.13" fill="#000" opacity="0.08" filter="url(#b8)"/>
<rect x="1791.38" y="2247.1" width="29.61" height="5.13" fill="#000" opacity="0.08" filter="url(#b8)"/>
<rect x="1557.5" y="2249.87" width="29.61" height="4.74" fill="#000" opacity="0.3" filter="url(#b5)"/>
<rect x="1595" y="2251.51" width="29.61" height="4.74" fill="#000" opacity="0.3" filter="url(#b5)"/>
<rect x="1634.47" y="2253.14" width="29.61" height="4.74" fill="#000" opacity="0.3" filter="url(#b5)"/>
<rect x="1673.95" y="2254.78" width="29.61" height="4.74" fill="#000" opacity="0.3" filter="url(#b5)"/>
<rect x="1713.42" y="2256.42" width="29.61" height="4.74" fill="#000" opacity="0.3" filter="url(#b5)"/>
<rect x="1751.91" y="2258.06" width="29.61" height="4.74" fill="#000" opacity="0.3" filter="url(#b5)"/>
<rect x="1791.38" y="2259.7" width="29.61" height="4.74" fill="#000" opacity="0.3" filter="url(#b5)"/>
<rect x="1557.5" y="2262.3" width="29.61" height="9.87" fill="#000" opacity="0.05" filter="url(#b8)"/>
<rect x="1595" y="2263.88" width="29.61" height="9.87" fill="#000" opacity="0.05" filter="url(#b8)"/>
<rect x="1634.47" y="2265.46" width="29.61" height="9.87" fill="#000" opacity="0.05" filter="url(#b8)"/>
<rect x="1673.95" y="2267.04" width="29.61" height="9.87" fill="#000" opacity="0.05" filter="url(#b8)"/>
<rect x="1713.42" y="2268.62" width="29.61" height="9.87" fill="#000" opacity="0.05" filter="url(#b8)"/>
<rect x="1751.91" y="2270.2" width="29.61" height="9.87" fill="#000" opacity="0.05" filter="url(#b8)"/>
<rect x="1791.38" y="2271.77" width="29.61" height="9.87" fill="#000" opacity="0.05" filter="url(#b8)"/>
<rect x="1557.5" y="2288.55" width="29.61" height="6.71" fill="#000" opacity="0.07" filter="url(#b8)"/>
<rect x="1634.47" y="2291.71" width="29.61" height="6.71" fill="#000" opacity="0.07" filter="url(#b8)"/>
<rect x="1673.95" y="2293.29" width="29.61" height="6.71" fill="#000" opacity="0.07" filter="url(#b8)"/>
<rect x="1713.42" y="2294.87" width="29.61" height="6.71" fill="#000" opacity="0.07" filter="url(#b8)"/>
<rect x="1751.91" y="2296.45" width="29.61" height="6.71" fill="#000" opacity="0.07" filter="url(#b8)"/>
<rect x="1557.5" y="2305.33" width="29.61" height="6.71" fill="#000" opacity="0.07" filter="url(#b8)"/>
<rect x="1634.47" y="2308.49" width="29.61" height="6.71" fill="#000" opacity="0.07" filter="url(#b8)"/>
<rect x="1673.95" y="2310.06" width="29.61" height="6.71" fill="#000" opacity="0.07" filter="url(#b8)"/>
<rect x="1713.42" y="2311.64" width="29.61" height="6.71" fill="#000" opacity="0.07" filter="url(#b8)"/>
<rect x="1751.91" y="2313.22" width="29.61" height="6.71" fill="#000" opacity="0.07" filter="url(#b8)"/>
<rect x="1791.38" y="2314.8" width="29.61" height="6.71" fill="#000" opacity="0.07" filter="url(#b8)"/>
<rect x="1557.5" y="2335.33" width="29.61" height="9.87" fill="#000" opacity="0.04" filter="url(#b8)"/>
<rect x="1595" y="2337.3" width="29.61" height="9.87" fill="#000" opacity="0.04" filter="url(#b8)"/>
<rect x="1634.47" y="2339.27" width="29.61" height="9.87" fill="#000" opacity="0.04" filter="url(#b8)"/>
<rect x="1673.95" y="2341.25" width="29.61" height="9.87" fill="#000" opacity="0.04" filter="url(#b8)"/>
<rect x="1713.42" y="2343.22" width="29.61" height="9.87" fill="#000" opacity="0.04" filter="url(#b8)"/>
<rect x="1751.91" y="2345.2" width="29.61" height="9.87" fill="#000" opacity="0.04" filter="url(#b8)"/>
<rect x="1791.38" y="2347.17" width="29.61" height="9.87" fill="#000" opacity="0.04" filter="url(#b8)"/>
<rect x="1557.5" y="2347.17" width="29.61" height="9.87" fill="#000" opacity="0.06" filter="url(#b8)"/>
<rect x="1595" y="2349.14" width="29.61" height="9.87" fill="#000" opacity="0.06" filter="url(#b8)"/>
<rect x="1634.47" y="2351.12" width="29.61" height="9.87" fill="#000" opacity="0.06" filter="url(#b8)"/>
<rect x="1673.95" y="2353.09" width="29.61" height="9.87" fill="#000" opacity="0.06" filter="url(#b8)"/>
<rect x="1713.42" y="2355.06" width="29.61" height="9.87" fill="#000" opacity="0.06" filter="url(#b8)"/>
<rect x="1751.91" y="2357.04" width="29.61" height="9.87" fill="#000" opacity="0.06" filter="url(#b8)"/>
<rect x="1791.38" y="2359.01" width="29.61" height="9.87" fill="#000" opacity="0.06" filter="url(#b8)"/>
<rect x="1557.5" y="2357.04" width="29.61" height="7.89" fill="#000" opacity="0.05" filter="url(#b8)"/>
<rect x="1595" y="2359.41" width="29.61" height="7.89" fill="#000" opacity="0.05" filter="url(#b8)"/>
<rect x="1634.47" y="2361.77" width="29.61" height="7.89" fill="#000" opacity="0.05" filter="url(#b8)"/>
<rect x="1673.95" y="2364.14" width="29.61" height="7.89" fill="#000" opacity="0.05" filter="url(#b8)"/>
<rect x="1713.42" y="2366.51" width="29.61" height="7.89" fill="#000" opacity="0.05" filter="url(#b8)"/>
<rect x="1751.91" y="2368.88" width="29.61" height="7.89" fill="#000" opacity="0.05" filter="url(#b8)"/>
<rect x="1791.38" y="2371.25" width="29.61" height="7.89" fill="#000" opacity="0.05" filter="url(#b8)"/>
<rect x="1557.5" y="2363.35" width="29.61" height="5.92" fill="#000" opacity="0.17" filter="url(#b6)"/>
<rect x="1595" y="2366.22" width="29.61" height="5.92" fill="#000" opacity="0.17" filter="url(#b6)"/>
<rect x="1634.47" y="2369.08" width="29.61" height="5.92" fill="#000" opacity="0.17" filter="url(#b6)"/>
<rect x="1673.95" y="2371.94" width="29.61" height="5.92" fill="#000" opacity="0.17" filter="url(#b6)"/>
<rect x="1713.42" y="2374.8" width="29.61" height="5.92" fill="#000" opacity="0.17" filter="url(#b6)"/>
<rect x="1751.91" y="2377.66" width="29.61" height="5.92" fill="#000" opacity="0.17" filter="url(#b6)"/>
<rect x="1791.38" y="2380.52" width="29.61" height="5.92" fill="#000" opacity="0.17" filter="url(#b6)"/>
<rect x="1557.5" y="2364.14" width="29.61" height="4.34" fill="#000" opacity="0.1" filter="url(#b5)"/>
<rect x="1634.47" y="2364.14" width="29.61" height="4.34" fill="#000" opacity="0.1" filter="url(#b5)"/>
<rect x="1634.47" y="2398.48" width="29.61" height="9.87" fill="#000" opacity="0.03" filter="url(#b8)"/>
<rect x="1673.95" y="2398.48" width="29.61" height="9.87" fill="#000" opacity="0.03" filter="url(#b8)"/>
<rect x="1539.74" y="2362.96" width="9.87" height="4.34" fill="#000" opacity="0.26" filter="url(#b5)"/>
<rect x="1539.74" y="2142.89" width="9.87" height="2.76" fill="#000" opacity="0.16" filter="url(#b5)"/>
</g>
<rect x="1537.8" y="2076.4" width="293.4" height="334.9" fill="none" stroke="#111" stroke-width="3.2"/>
<text x="1673" y="2450" font-size="29.3" text-anchor="middle" fill="#1a1a1a">Total protein</text>
<!-- panel labels -->
<text transform="translate(-2.53 26.8) scale(0.95 1)" font-size="37.5">A</text>
<text transform="translate(617.08 27) scale(0.83 1)" font-size="37">B</text>
<text x="1236.84" y="32.4" font-size="40" fill="#1a1a1a" stroke="#fff" stroke-width="0.5">C</text>
<text x="1237.72" y="356.1" font-size="37.5">D</text>
<text x="14.76" y="649.8" font-size="39.5">E</text>
<text x="644.86" y="649.8" font-size="39.5">F</text>
<text transform="translate(1238.45 905) scale(0.89 1)" font-size="37.2">G</text>
<text x="15.77" y="1305.9" font-size="39.4">H</text>
<text x="15.96" y="2098.9" font-size="29.3">I</text>
<text x="730.27" y="2098.8" font-size="29.3">J</text>
<text x="1104.6" y="1563.9" font-size="29.3">K</text>
</svg>
</body>
</html>
